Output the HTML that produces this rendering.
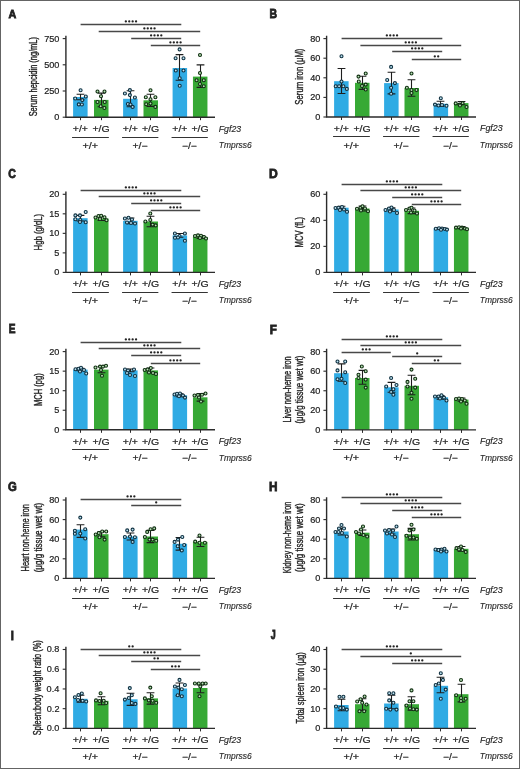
<!DOCTYPE html>
<html><head><meta charset="utf-8"><style>
html,body{margin:0;padding:0;background:#fff;}
body{width:520px;height:769px;overflow:hidden;}
text{font-family:"Liberation Sans",sans-serif;}
svg{will-change:transform;}
</style></head><body>
<svg width="520" height="769" viewBox="0 0 520 769" style="display:block">
<rect x="0" y="0" width="520" height="769" fill="#fff"/>
<text transform="translate(8.43,17.9) scale(0.91,1)" font-size="11.78" font-weight="bold" fill="#222" stroke="#222" stroke-width="0.8">A</text>
<line x1="80.6" y1="24.5" x2="181.3" y2="24.5" stroke="#484848" stroke-width="1.3"/>
<circle cx="125.85" cy="21.4" r="1.15" fill="#222"/>
<circle cx="129.25" cy="21.4" r="1.15" fill="#222"/>
<circle cx="132.65" cy="21.4" r="1.15" fill="#222"/>
<circle cx="136.05" cy="21.4" r="1.15" fill="#222"/>
<line x1="98.7" y1="31.5" x2="200.2" y2="31.5" stroke="#484848" stroke-width="1.3"/>
<circle cx="144.35" cy="28.4" r="1.15" fill="#222"/>
<circle cx="147.75" cy="28.4" r="1.15" fill="#222"/>
<circle cx="151.15" cy="28.4" r="1.15" fill="#222"/>
<circle cx="154.55" cy="28.4" r="1.15" fill="#222"/>
<line x1="131.2" y1="38.5" x2="181.2" y2="38.5" stroke="#484848" stroke-width="1.3"/>
<circle cx="151.1" cy="35.4" r="1.15" fill="#222"/>
<circle cx="154.5" cy="35.4" r="1.15" fill="#222"/>
<circle cx="157.9" cy="35.4" r="1.15" fill="#222"/>
<circle cx="161.3" cy="35.4" r="1.15" fill="#222"/>
<line x1="150.8" y1="45.5" x2="200.2" y2="45.5" stroke="#484848" stroke-width="1.3"/>
<circle cx="170.4" cy="42.4" r="1.15" fill="#222"/>
<circle cx="173.8" cy="42.4" r="1.15" fill="#222"/>
<circle cx="177.2" cy="42.4" r="1.15" fill="#222"/>
<circle cx="180.6" cy="42.4" r="1.15" fill="#222"/>
<rect x="73.1" y="97" width="14.5" height="20.2" fill="#30abe4"/>
<rect x="94" y="99.9" width="14.5" height="17.3" fill="#37a935"/>
<rect x="123.1" y="98.8" width="14.5" height="18.4" fill="#30abe4"/>
<rect x="143.5" y="100.3" width="14.5" height="16.9" fill="#37a935"/>
<rect x="172.6" y="68" width="14.5" height="49.2" fill="#30abe4"/>
<rect x="192.95" y="76.6" width="14.5" height="40.6" fill="#37a935"/>
<path d="M80.5,94.3V99.7M76.6,94.3H84.4M76.6,99.7H84.4" stroke="#1e1e1e" stroke-width="1.1" fill="none"/>
<path d="M101.5,93.1V106.7M97.6,93.1H105.4M97.6,106.7H105.4" stroke="#1e1e1e" stroke-width="1.1" fill="none"/>
<path d="M130.5,90.8V106.8M126.6,90.8H134.4M126.6,106.8H134.4" stroke="#1e1e1e" stroke-width="1.1" fill="none"/>
<path d="M150.5,94.2V106.4M146.6,94.2H154.4M146.6,106.4H154.4" stroke="#1e1e1e" stroke-width="1.1" fill="none"/>
<path d="M179.5,54.6V80.3M175.6,54.6H183.4M175.6,80.3H183.4" stroke="#1e1e1e" stroke-width="1.1" fill="none"/>
<path d="M200.5,64.9V87.4M196.6,64.9H204.4M196.6,87.4H204.4" stroke="#1e1e1e" stroke-width="1.1" fill="none"/>
<circle cx="80.6" cy="90.3" r="1.5" fill="#bde3f2" stroke="#0f3040" stroke-width="1.1"/>
<circle cx="75.2" cy="98.5" r="1.5" fill="#bde3f2" stroke="#0f3040" stroke-width="1.1"/>
<circle cx="85.8" cy="96.5" r="1.5" fill="#bde3f2" stroke="#0f3040" stroke-width="1.1"/>
<circle cx="82.3" cy="100.1" r="1.5" fill="#bde3f2" stroke="#0f3040" stroke-width="1.1"/>
<circle cx="78.8" cy="104.4" r="1.5" fill="#bde3f2" stroke="#0f3040" stroke-width="1.1"/>
<circle cx="81.9" cy="104.5" r="1.5" fill="#bde3f2" stroke="#0f3040" stroke-width="1.1"/>
<circle cx="97.5" cy="91.5" r="1.5" fill="#b8e2b6" stroke="#0f2e10" stroke-width="1.1"/>
<circle cx="104.5" cy="91.5" r="1.5" fill="#b8e2b6" stroke="#0f2e10" stroke-width="1.1"/>
<circle cx="101" cy="96.3" r="1.5" fill="#b8e2b6" stroke="#0f2e10" stroke-width="1.1"/>
<circle cx="97.5" cy="102" r="1.5" fill="#b8e2b6" stroke="#0f2e10" stroke-width="1.1"/>
<circle cx="104.7" cy="102" r="1.5" fill="#b8e2b6" stroke="#0f2e10" stroke-width="1.1"/>
<circle cx="100.7" cy="106.2" r="1.5" fill="#b8e2b6" stroke="#0f2e10" stroke-width="1.1"/>
<circle cx="104.4" cy="108" r="1.5" fill="#b8e2b6" stroke="#0f2e10" stroke-width="1.1"/>
<circle cx="129.9" cy="90.1" r="1.5" fill="#bde3f2" stroke="#0f3040" stroke-width="1.1"/>
<circle cx="124.9" cy="93.5" r="1.5" fill="#bde3f2" stroke="#0f3040" stroke-width="1.1"/>
<circle cx="129.9" cy="95.1" r="1.5" fill="#bde3f2" stroke="#0f3040" stroke-width="1.1"/>
<circle cx="134.9" cy="97.5" r="1.5" fill="#bde3f2" stroke="#0f3040" stroke-width="1.1"/>
<circle cx="127.9" cy="104" r="1.5" fill="#bde3f2" stroke="#0f3040" stroke-width="1.1"/>
<circle cx="130.5" cy="104.5" r="1.5" fill="#bde3f2" stroke="#0f3040" stroke-width="1.1"/>
<circle cx="132.6" cy="106.9" r="1.5" fill="#bde3f2" stroke="#0f3040" stroke-width="1.1"/>
<circle cx="150.5" cy="90.2" r="1.5" fill="#b8e2b6" stroke="#0f2e10" stroke-width="1.1"/>
<circle cx="145.8" cy="97.2" r="1.5" fill="#b8e2b6" stroke="#0f2e10" stroke-width="1.1"/>
<circle cx="155.4" cy="97.2" r="1.5" fill="#b8e2b6" stroke="#0f2e10" stroke-width="1.1"/>
<circle cx="150.5" cy="99.2" r="1.5" fill="#b8e2b6" stroke="#0f2e10" stroke-width="1.1"/>
<circle cx="146.2" cy="104.3" r="1.5" fill="#b8e2b6" stroke="#0f2e10" stroke-width="1.1"/>
<circle cx="155.4" cy="106.9" r="1.5" fill="#b8e2b6" stroke="#0f2e10" stroke-width="1.1"/>
<circle cx="150.5" cy="103.5" r="1.5" fill="#b8e2b6" stroke="#0f2e10" stroke-width="1.1"/>
<circle cx="179.6" cy="49.4" r="1.5" fill="#bde3f2" stroke="#0f3040" stroke-width="1.1"/>
<circle cx="175.6" cy="58.2" r="1.5" fill="#bde3f2" stroke="#0f3040" stroke-width="1.1"/>
<circle cx="183.5" cy="58.2" r="1.5" fill="#bde3f2" stroke="#0f3040" stroke-width="1.1"/>
<circle cx="175.8" cy="70.5" r="1.5" fill="#bde3f2" stroke="#0f3040" stroke-width="1.1"/>
<circle cx="183.5" cy="70.5" r="1.5" fill="#bde3f2" stroke="#0f3040" stroke-width="1.1"/>
<circle cx="179.7" cy="78.2" r="1.5" fill="#bde3f2" stroke="#0f3040" stroke-width="1.1"/>
<circle cx="179.7" cy="85.8" r="1.5" fill="#bde3f2" stroke="#0f3040" stroke-width="1.1"/>
<circle cx="200" cy="55" r="1.5" fill="#b8e2b6" stroke="#0f2e10" stroke-width="1.1"/>
<circle cx="200" cy="73" r="1.5" fill="#b8e2b6" stroke="#0f2e10" stroke-width="1.1"/>
<circle cx="196.6" cy="80.3" r="1.5" fill="#b8e2b6" stroke="#0f2e10" stroke-width="1.1"/>
<circle cx="203.8" cy="80.3" r="1.5" fill="#b8e2b6" stroke="#0f2e10" stroke-width="1.1"/>
<circle cx="203.8" cy="86.2" r="1.5" fill="#b8e2b6" stroke="#0f2e10" stroke-width="1.1"/>
<circle cx="200" cy="84" r="1.5" fill="#b8e2b6" stroke="#0f2e10" stroke-width="1.1"/>
<path d="M65.9,35.8V117.2H215" stroke="#2b2b2b" stroke-width="1.4" fill="none"/>
<line x1="62.7" y1="117.2" x2="65.9" y2="117.2" stroke="#2b2b2b" stroke-width="1.1"/>
<text transform="translate(54.28,120.18) scale(1.04,1)" font-size="8.8" fill="#222" stroke="#222" stroke-width="0.2">0</text>
<line x1="62.7" y1="91" x2="65.9" y2="91" stroke="#2b2b2b" stroke-width="1.1"/>
<text transform="translate(44.14,93.98) scale(1.04,1)" font-size="8.8" fill="#222" stroke="#222" stroke-width="0.2">250</text>
<line x1="62.7" y1="64.8" x2="65.9" y2="64.8" stroke="#2b2b2b" stroke-width="1.1"/>
<text transform="translate(44.14,67.78) scale(1.04,1)" font-size="8.8" fill="#222" stroke="#222" stroke-width="0.2">500</text>
<line x1="62.7" y1="38.6" x2="65.9" y2="38.6" stroke="#2b2b2b" stroke-width="1.1"/>
<text transform="translate(44.14,41.58) scale(1.04,1)" font-size="8.8" fill="#222" stroke="#222" stroke-width="0.2">750</text>
<line x1="80.5" y1="117.2" x2="80.5" y2="120.2" stroke="#2b2b2b" stroke-width="1"/>
<line x1="101.5" y1="117.2" x2="101.5" y2="120.2" stroke="#2b2b2b" stroke-width="1"/>
<line x1="130.5" y1="117.2" x2="130.5" y2="120.2" stroke="#2b2b2b" stroke-width="1"/>
<line x1="150.5" y1="117.2" x2="150.5" y2="120.2" stroke="#2b2b2b" stroke-width="1"/>
<line x1="179.5" y1="117.2" x2="179.5" y2="120.2" stroke="#2b2b2b" stroke-width="1"/>
<line x1="200.5" y1="117.2" x2="200.5" y2="120.2" stroke="#2b2b2b" stroke-width="1"/>
<text transform="translate(72.83,132) scale(1.17,1)" font-size="8.9" fill="#222" stroke="#222" stroke-width="0.2">+/+</text>
<text transform="translate(92.48,132) scale(1.18,1)" font-size="8.9" fill="#222" stroke="#222" stroke-width="0.2">+/G</text>
<text transform="translate(122.83,132) scale(1.17,1)" font-size="8.9" fill="#222" stroke="#222" stroke-width="0.2">+/+</text>
<text transform="translate(141.98,132) scale(1.18,1)" font-size="8.9" fill="#222" stroke="#222" stroke-width="0.2">+/G</text>
<text transform="translate(172.33,132) scale(1.17,1)" font-size="8.9" fill="#222" stroke="#222" stroke-width="0.2">+/+</text>
<text transform="translate(191.43,132) scale(1.18,1)" font-size="8.9" fill="#222" stroke="#222" stroke-width="0.2">+/G</text>
<line x1="72.05" y1="137.5" x2="108.85" y2="137.5" stroke="#333" stroke-width="1.2"/>
<text transform="translate(82.41,148.7) scale(1.21,1)" font-size="8.9" fill="#222" stroke="#222" stroke-width="0.2">+/+</text>
<line x1="122.05" y1="137.5" x2="158.35" y2="137.5" stroke="#333" stroke-width="1.2"/>
<text transform="translate(132.43,148.7) scale(1.17,1)" font-size="8.9" fill="#222" stroke="#222" stroke-width="0.2">+/−</text>
<line x1="171.55" y1="137.5" x2="207.8" y2="137.5" stroke="#333" stroke-width="1.2"/>
<text transform="translate(182.01,148.7) scale(1.15,1)" font-size="8.9" fill="#222" stroke="#222" stroke-width="0.2">−/−</text>
<text transform="translate(218.74,131.6) scale(1.01,1)" font-size="8.7" font-style="italic" fill="#222" stroke="#222" stroke-width="0.12">Fgf23</text>
<text transform="translate(218.74,148.1) scale(0.92,1)" font-size="9.2" font-style="italic" fill="#222" stroke="#222" stroke-width="0.12">Tmprss6</text>
<text transform="translate(36.85,116.34) rotate(-90) scale(0.73,1)" font-size="10.2" fill="#222" stroke="#222" stroke-width="0.35">Serum hepcidin (ng/mL)</text>
<text transform="translate(269.49,18.1) scale(0.85,1)" font-size="12.36" font-weight="bold" fill="#222" stroke="#222" stroke-width="0.8">B</text>
<line x1="341.6" y1="38.5" x2="442.3" y2="38.5" stroke="#484848" stroke-width="1.3"/>
<circle cx="386.85" cy="35.4" r="1.15" fill="#222"/>
<circle cx="390.25" cy="35.4" r="1.15" fill="#222"/>
<circle cx="393.65" cy="35.4" r="1.15" fill="#222"/>
<circle cx="397.05" cy="35.4" r="1.15" fill="#222"/>
<line x1="360.4" y1="45.5" x2="461.2" y2="45.5" stroke="#484848" stroke-width="1.3"/>
<circle cx="405.7" cy="42.4" r="1.15" fill="#222"/>
<circle cx="409.1" cy="42.4" r="1.15" fill="#222"/>
<circle cx="412.5" cy="42.4" r="1.15" fill="#222"/>
<circle cx="415.9" cy="42.4" r="1.15" fill="#222"/>
<line x1="392.2" y1="51.5" x2="442.2" y2="51.5" stroke="#484848" stroke-width="1.3"/>
<circle cx="412.1" cy="48.4" r="1.15" fill="#222"/>
<circle cx="415.5" cy="48.4" r="1.15" fill="#222"/>
<circle cx="418.9" cy="48.4" r="1.15" fill="#222"/>
<circle cx="422.3" cy="48.4" r="1.15" fill="#222"/>
<line x1="411.8" y1="59.5" x2="461.2" y2="59.5" stroke="#484848" stroke-width="1.3"/>
<circle cx="434.8" cy="56.4" r="1.15" fill="#222"/>
<circle cx="438.2" cy="56.4" r="1.15" fill="#222"/>
<rect x="334.1" y="81.2" width="14.5" height="35.8" fill="#30abe4"/>
<rect x="355" y="82.8" width="14.5" height="34.2" fill="#37a935"/>
<rect x="384.1" y="83.1" width="14.5" height="33.9" fill="#30abe4"/>
<rect x="404.5" y="88" width="14.5" height="29" fill="#37a935"/>
<rect x="433.6" y="103.8" width="14.5" height="13.2" fill="#30abe4"/>
<rect x="453.95" y="103.1" width="14.5" height="13.9" fill="#37a935"/>
<path d="M341.5,68.5V93.5M337.6,68.5H345.4M337.6,93.5H345.4" stroke="#1e1e1e" stroke-width="1.1" fill="none"/>
<path d="M362.5,76.2V89.4M358.6,76.2H366.4M358.6,89.4H366.4" stroke="#1e1e1e" stroke-width="1.1" fill="none"/>
<path d="M391.5,72.3V93.9M387.6,72.3H395.4M387.6,93.9H395.4" stroke="#1e1e1e" stroke-width="1.1" fill="none"/>
<path d="M411.5,79.7V96.3M407.6,79.7H415.4M407.6,96.3H415.4" stroke="#1e1e1e" stroke-width="1.1" fill="none"/>
<path d="M440.5,101.2V106.4M436.6,101.2H444.4M436.6,106.4H444.4" stroke="#1e1e1e" stroke-width="1.1" fill="none"/>
<path d="M461.5,101.5V104.7M457.6,101.5H465.4M457.6,104.7H465.4" stroke="#1e1e1e" stroke-width="1.1" fill="none"/>
<circle cx="341.5" cy="56.2" r="1.5" fill="#bde3f2" stroke="#0f3040" stroke-width="1.1"/>
<circle cx="335.7" cy="86.2" r="1.5" fill="#bde3f2" stroke="#0f3040" stroke-width="1.1"/>
<circle cx="339.1" cy="86.2" r="1.5" fill="#bde3f2" stroke="#0f3040" stroke-width="1.1"/>
<circle cx="343.4" cy="86.2" r="1.5" fill="#bde3f2" stroke="#0f3040" stroke-width="1.1"/>
<circle cx="346.8" cy="88.9" r="1.5" fill="#bde3f2" stroke="#0f3040" stroke-width="1.1"/>
<circle cx="341.5" cy="81.5" r="1.5" fill="#bde3f2" stroke="#0f3040" stroke-width="1.1"/>
<circle cx="358.5" cy="76.6" r="1.5" fill="#b8e2b6" stroke="#0f2e10" stroke-width="1.1"/>
<circle cx="365.7" cy="73.5" r="1.5" fill="#b8e2b6" stroke="#0f2e10" stroke-width="1.1"/>
<circle cx="358.8" cy="81.5" r="1.5" fill="#b8e2b6" stroke="#0f2e10" stroke-width="1.1"/>
<circle cx="365.7" cy="84.6" r="1.5" fill="#b8e2b6" stroke="#0f2e10" stroke-width="1.1"/>
<circle cx="365.7" cy="89.5" r="1.5" fill="#b8e2b6" stroke="#0f2e10" stroke-width="1.1"/>
<circle cx="362" cy="86" r="1.5" fill="#b8e2b6" stroke="#0f2e10" stroke-width="1.1"/>
<circle cx="391.1" cy="66.9" r="1.5" fill="#bde3f2" stroke="#0f3040" stroke-width="1.1"/>
<circle cx="387.2" cy="80" r="1.5" fill="#bde3f2" stroke="#0f3040" stroke-width="1.1"/>
<circle cx="394.9" cy="83.1" r="1.5" fill="#bde3f2" stroke="#0f3040" stroke-width="1.1"/>
<circle cx="391.1" cy="87.7" r="1.5" fill="#bde3f2" stroke="#0f3040" stroke-width="1.1"/>
<circle cx="391.1" cy="93.8" r="1.5" fill="#bde3f2" stroke="#0f3040" stroke-width="1.1"/>
<circle cx="411.5" cy="73.5" r="1.5" fill="#b8e2b6" stroke="#0f2e10" stroke-width="1.1"/>
<circle cx="406.9" cy="87.7" r="1.5" fill="#b8e2b6" stroke="#0f2e10" stroke-width="1.1"/>
<circle cx="416.5" cy="90" r="1.5" fill="#b8e2b6" stroke="#0f2e10" stroke-width="1.1"/>
<circle cx="411.5" cy="90" r="1.5" fill="#b8e2b6" stroke="#0f2e10" stroke-width="1.1"/>
<circle cx="411.5" cy="93" r="1.5" fill="#b8e2b6" stroke="#0f2e10" stroke-width="1.1"/>
<circle cx="440.8" cy="98.2" r="1.5" fill="#bde3f2" stroke="#0f3040" stroke-width="1.1"/>
<circle cx="435" cy="104.6" r="1.5" fill="#bde3f2" stroke="#0f3040" stroke-width="1.1"/>
<circle cx="438.5" cy="105.5" r="1.5" fill="#bde3f2" stroke="#0f3040" stroke-width="1.1"/>
<circle cx="442" cy="105" r="1.5" fill="#bde3f2" stroke="#0f3040" stroke-width="1.1"/>
<circle cx="446.5" cy="105.8" r="1.5" fill="#bde3f2" stroke="#0f3040" stroke-width="1.1"/>
<circle cx="455.7" cy="103.4" r="1.5" fill="#b8e2b6" stroke="#0f2e10" stroke-width="1.1"/>
<circle cx="459.5" cy="104.6" r="1.5" fill="#b8e2b6" stroke="#0f2e10" stroke-width="1.1"/>
<circle cx="462.6" cy="103.1" r="1.5" fill="#b8e2b6" stroke="#0f2e10" stroke-width="1.1"/>
<circle cx="466.5" cy="107" r="1.5" fill="#b8e2b6" stroke="#0f2e10" stroke-width="1.1"/>
<circle cx="460" cy="105.5" r="1.5" fill="#b8e2b6" stroke="#0f2e10" stroke-width="1.1"/>
<path d="M326.6,35.8V117H476" stroke="#2b2b2b" stroke-width="1.4" fill="none"/>
<line x1="323.4" y1="117" x2="326.6" y2="117" stroke="#2b2b2b" stroke-width="1.1"/>
<text transform="translate(315.28,119.98) scale(1.04,1)" font-size="8.8" fill="#222" stroke="#222" stroke-width="0.2">0</text>
<line x1="323.4" y1="97.4" x2="326.6" y2="97.4" stroke="#2b2b2b" stroke-width="1.1"/>
<text transform="translate(310.22,100.38) scale(1.04,1)" font-size="8.8" fill="#222" stroke="#222" stroke-width="0.2">20</text>
<line x1="323.4" y1="77.8" x2="326.6" y2="77.8" stroke="#2b2b2b" stroke-width="1.1"/>
<text transform="translate(310.22,80.78) scale(1.04,1)" font-size="8.8" fill="#222" stroke="#222" stroke-width="0.2">40</text>
<line x1="323.4" y1="58.2" x2="326.6" y2="58.2" stroke="#2b2b2b" stroke-width="1.1"/>
<text transform="translate(310.22,61.18) scale(1.04,1)" font-size="8.8" fill="#222" stroke="#222" stroke-width="0.2">60</text>
<line x1="323.4" y1="38.6" x2="326.6" y2="38.6" stroke="#2b2b2b" stroke-width="1.1"/>
<text transform="translate(310.22,41.58) scale(1.04,1)" font-size="8.8" fill="#222" stroke="#222" stroke-width="0.2">80</text>
<line x1="341.5" y1="117" x2="341.5" y2="120" stroke="#2b2b2b" stroke-width="1"/>
<line x1="362.5" y1="117" x2="362.5" y2="120" stroke="#2b2b2b" stroke-width="1"/>
<line x1="391.5" y1="117" x2="391.5" y2="120" stroke="#2b2b2b" stroke-width="1"/>
<line x1="411.5" y1="117" x2="411.5" y2="120" stroke="#2b2b2b" stroke-width="1"/>
<line x1="440.5" y1="117" x2="440.5" y2="120" stroke="#2b2b2b" stroke-width="1"/>
<line x1="461.5" y1="117" x2="461.5" y2="120" stroke="#2b2b2b" stroke-width="1"/>
<text transform="translate(333.83,131.8) scale(1.17,1)" font-size="8.9" fill="#222" stroke="#222" stroke-width="0.2">+/+</text>
<text transform="translate(353.48,131.8) scale(1.18,1)" font-size="8.9" fill="#222" stroke="#222" stroke-width="0.2">+/G</text>
<text transform="translate(383.83,131.8) scale(1.17,1)" font-size="8.9" fill="#222" stroke="#222" stroke-width="0.2">+/+</text>
<text transform="translate(402.98,131.8) scale(1.18,1)" font-size="8.9" fill="#222" stroke="#222" stroke-width="0.2">+/G</text>
<text transform="translate(433.33,131.8) scale(1.17,1)" font-size="8.9" fill="#222" stroke="#222" stroke-width="0.2">+/+</text>
<text transform="translate(452.43,131.8) scale(1.18,1)" font-size="8.9" fill="#222" stroke="#222" stroke-width="0.2">+/G</text>
<line x1="333.05" y1="136.5" x2="369.85" y2="136.5" stroke="#333" stroke-width="1.2"/>
<text transform="translate(343.41,148.5) scale(1.21,1)" font-size="8.9" fill="#222" stroke="#222" stroke-width="0.2">+/+</text>
<line x1="383.05" y1="136.5" x2="419.35" y2="136.5" stroke="#333" stroke-width="1.2"/>
<text transform="translate(393.43,148.5) scale(1.17,1)" font-size="8.9" fill="#222" stroke="#222" stroke-width="0.2">+/−</text>
<line x1="432.55" y1="136.5" x2="468.8" y2="136.5" stroke="#333" stroke-width="1.2"/>
<text transform="translate(443.01,148.5) scale(1.15,1)" font-size="8.9" fill="#222" stroke="#222" stroke-width="0.2">−/−</text>
<text transform="translate(480.03,131.4) scale(1.02,1)" font-size="8.7" font-style="italic" fill="#222" stroke="#222" stroke-width="0.12">Fgf23</text>
<text transform="translate(479.74,147.9) scale(0.92,1)" font-size="9.2" font-style="italic" fill="#222" stroke="#222" stroke-width="0.12">Tmprss6</text>
<text transform="translate(303.3,104.65) rotate(-90) scale(0.76,1)" font-size="10.2" fill="#222" stroke="#222" stroke-width="0.35">Serum iron (μM)</text>
<text transform="translate(8.28,178.2) scale(0.81,1)" font-size="12.95" font-weight="bold" fill="#222" stroke="#222" stroke-width="0.8">C</text>
<line x1="80.6" y1="190.5" x2="181.3" y2="190.5" stroke="#484848" stroke-width="1.3"/>
<circle cx="125.85" cy="187.4" r="1.15" fill="#222"/>
<circle cx="129.25" cy="187.4" r="1.15" fill="#222"/>
<circle cx="132.65" cy="187.4" r="1.15" fill="#222"/>
<circle cx="136.05" cy="187.4" r="1.15" fill="#222"/>
<line x1="98.7" y1="196.5" x2="200.2" y2="196.5" stroke="#484848" stroke-width="1.3"/>
<circle cx="144.35" cy="193.4" r="1.15" fill="#222"/>
<circle cx="147.75" cy="193.4" r="1.15" fill="#222"/>
<circle cx="151.15" cy="193.4" r="1.15" fill="#222"/>
<circle cx="154.55" cy="193.4" r="1.15" fill="#222"/>
<line x1="131.2" y1="203.5" x2="181.2" y2="203.5" stroke="#484848" stroke-width="1.3"/>
<circle cx="151.1" cy="200.4" r="1.15" fill="#222"/>
<circle cx="154.5" cy="200.4" r="1.15" fill="#222"/>
<circle cx="157.9" cy="200.4" r="1.15" fill="#222"/>
<circle cx="161.3" cy="200.4" r="1.15" fill="#222"/>
<line x1="150.8" y1="210.5" x2="200.2" y2="210.5" stroke="#484848" stroke-width="1.3"/>
<circle cx="170.4" cy="207.4" r="1.15" fill="#222"/>
<circle cx="173.8" cy="207.4" r="1.15" fill="#222"/>
<circle cx="177.2" cy="207.4" r="1.15" fill="#222"/>
<circle cx="180.6" cy="207.4" r="1.15" fill="#222"/>
<rect x="73.1" y="218.2" width="14.5" height="54.2" fill="#30abe4"/>
<rect x="94" y="218.5" width="14.5" height="53.9" fill="#37a935"/>
<rect x="123.1" y="220.8" width="14.5" height="51.6" fill="#30abe4"/>
<rect x="143.5" y="221.5" width="14.5" height="50.9" fill="#37a935"/>
<rect x="172.6" y="235.4" width="14.5" height="37" fill="#30abe4"/>
<rect x="192.95" y="237" width="14.5" height="35.4" fill="#37a935"/>
<path d="M80.5,215.4V221M76.6,215.4H84.4M76.6,221H84.4" stroke="#1e1e1e" stroke-width="1.1" fill="none"/>
<path d="M101.5,216.5V220.5M97.6,216.5H105.4M97.6,220.5H105.4" stroke="#1e1e1e" stroke-width="1.1" fill="none"/>
<path d="M130.5,218V223.6M126.6,218H134.4M126.6,223.6H134.4" stroke="#1e1e1e" stroke-width="1.1" fill="none"/>
<path d="M150.5,216.2V226.8M146.6,216.2H154.4M146.6,226.8H154.4" stroke="#1e1e1e" stroke-width="1.1" fill="none"/>
<path d="M179.5,233.5V237.3M175.6,233.5H183.4M175.6,237.3H183.4" stroke="#1e1e1e" stroke-width="1.1" fill="none"/>
<path d="M200.5,235.6V238.4M196.6,235.6H204.4M196.6,238.4H204.4" stroke="#1e1e1e" stroke-width="1.1" fill="none"/>
<circle cx="75.4" cy="215.4" r="1.5" fill="#bde3f2" stroke="#0f3040" stroke-width="1.1"/>
<circle cx="80" cy="215.4" r="1.5" fill="#bde3f2" stroke="#0f3040" stroke-width="1.1"/>
<circle cx="85.7" cy="212" r="1.5" fill="#bde3f2" stroke="#0f3040" stroke-width="1.1"/>
<circle cx="75.4" cy="219.2" r="1.5" fill="#bde3f2" stroke="#0f3040" stroke-width="1.1"/>
<circle cx="80.3" cy="220" r="1.5" fill="#bde3f2" stroke="#0f3040" stroke-width="1.1"/>
<circle cx="85.7" cy="222.3" r="1.5" fill="#bde3f2" stroke="#0f3040" stroke-width="1.1"/>
<circle cx="80" cy="222" r="1.5" fill="#bde3f2" stroke="#0f3040" stroke-width="1.1"/>
<circle cx="95.5" cy="217.5" r="1.5" fill="#b8e2b6" stroke="#0f2e10" stroke-width="1.1"/>
<circle cx="98.5" cy="216" r="1.5" fill="#b8e2b6" stroke="#0f2e10" stroke-width="1.1"/>
<circle cx="101.2" cy="215.8" r="1.5" fill="#b8e2b6" stroke="#0f2e10" stroke-width="1.1"/>
<circle cx="104.5" cy="217.2" r="1.5" fill="#b8e2b6" stroke="#0f2e10" stroke-width="1.1"/>
<circle cx="106.5" cy="220.2" r="1.5" fill="#b8e2b6" stroke="#0f2e10" stroke-width="1.1"/>
<circle cx="100" cy="219" r="1.5" fill="#b8e2b6" stroke="#0f2e10" stroke-width="1.1"/>
<circle cx="124.9" cy="218.5" r="1.5" fill="#bde3f2" stroke="#0f3040" stroke-width="1.1"/>
<circle cx="128.5" cy="217.7" r="1.5" fill="#bde3f2" stroke="#0f3040" stroke-width="1.1"/>
<circle cx="132" cy="219.5" r="1.5" fill="#bde3f2" stroke="#0f3040" stroke-width="1.1"/>
<circle cx="127" cy="222.5" r="1.5" fill="#bde3f2" stroke="#0f3040" stroke-width="1.1"/>
<circle cx="131" cy="223" r="1.5" fill="#bde3f2" stroke="#0f3040" stroke-width="1.1"/>
<circle cx="135" cy="223.5" r="1.5" fill="#bde3f2" stroke="#0f3040" stroke-width="1.1"/>
<circle cx="150.3" cy="213.5" r="1.5" fill="#b8e2b6" stroke="#0f2e10" stroke-width="1.1"/>
<circle cx="145.4" cy="221.5" r="1.5" fill="#b8e2b6" stroke="#0f2e10" stroke-width="1.1"/>
<circle cx="150.3" cy="220" r="1.5" fill="#b8e2b6" stroke="#0f2e10" stroke-width="1.1"/>
<circle cx="155.7" cy="225.4" r="1.5" fill="#b8e2b6" stroke="#0f2e10" stroke-width="1.1"/>
<circle cx="152.6" cy="224.6" r="1.5" fill="#b8e2b6" stroke="#0f2e10" stroke-width="1.1"/>
<circle cx="174.9" cy="233.5" r="1.5" fill="#bde3f2" stroke="#0f3040" stroke-width="1.1"/>
<circle cx="184.9" cy="233.5" r="1.5" fill="#bde3f2" stroke="#0f3040" stroke-width="1.1"/>
<circle cx="175" cy="237.7" r="1.5" fill="#bde3f2" stroke="#0f3040" stroke-width="1.1"/>
<circle cx="184.9" cy="240.8" r="1.5" fill="#bde3f2" stroke="#0f3040" stroke-width="1.1"/>
<circle cx="179.5" cy="236" r="1.5" fill="#bde3f2" stroke="#0f3040" stroke-width="1.1"/>
<circle cx="178" cy="237.5" r="1.5" fill="#bde3f2" stroke="#0f3040" stroke-width="1.1"/>
<circle cx="195" cy="236" r="1.5" fill="#b8e2b6" stroke="#0f2e10" stroke-width="1.1"/>
<circle cx="198" cy="235.4" r="1.5" fill="#b8e2b6" stroke="#0f2e10" stroke-width="1.1"/>
<circle cx="201" cy="235.8" r="1.5" fill="#b8e2b6" stroke="#0f2e10" stroke-width="1.1"/>
<circle cx="204" cy="237" r="1.5" fill="#b8e2b6" stroke="#0f2e10" stroke-width="1.1"/>
<circle cx="206" cy="238.5" r="1.5" fill="#b8e2b6" stroke="#0f2e10" stroke-width="1.1"/>
<circle cx="200" cy="238" r="1.5" fill="#b8e2b6" stroke="#0f2e10" stroke-width="1.1"/>
<path d="M65.9,191.5V272.4H215" stroke="#2b2b2b" stroke-width="1.4" fill="none"/>
<line x1="62.7" y1="272.4" x2="65.9" y2="272.4" stroke="#2b2b2b" stroke-width="1.1"/>
<text transform="translate(54.28,275.38) scale(1.04,1)" font-size="8.8" fill="#222" stroke="#222" stroke-width="0.2">0</text>
<line x1="62.7" y1="252.88" x2="65.9" y2="252.88" stroke="#2b2b2b" stroke-width="1.1"/>
<text transform="translate(54.3,255.86) scale(1.04,1)" font-size="8.8" fill="#222" stroke="#222" stroke-width="0.2">5</text>
<line x1="62.7" y1="233.35" x2="65.9" y2="233.35" stroke="#2b2b2b" stroke-width="1.1"/>
<text transform="translate(49.22,236.33) scale(1.04,1)" font-size="8.8" fill="#222" stroke="#222" stroke-width="0.2">10</text>
<line x1="62.7" y1="213.82" x2="65.9" y2="213.82" stroke="#2b2b2b" stroke-width="1.1"/>
<text transform="translate(49.25,216.81) scale(1.04,1)" font-size="8.8" fill="#222" stroke="#222" stroke-width="0.2">15</text>
<line x1="62.7" y1="194.3" x2="65.9" y2="194.3" stroke="#2b2b2b" stroke-width="1.1"/>
<text transform="translate(49.22,197.28) scale(1.04,1)" font-size="8.8" fill="#222" stroke="#222" stroke-width="0.2">20</text>
<line x1="80.5" y1="272.4" x2="80.5" y2="275.4" stroke="#2b2b2b" stroke-width="1"/>
<line x1="101.5" y1="272.4" x2="101.5" y2="275.4" stroke="#2b2b2b" stroke-width="1"/>
<line x1="130.5" y1="272.4" x2="130.5" y2="275.4" stroke="#2b2b2b" stroke-width="1"/>
<line x1="150.5" y1="272.4" x2="150.5" y2="275.4" stroke="#2b2b2b" stroke-width="1"/>
<line x1="179.5" y1="272.4" x2="179.5" y2="275.4" stroke="#2b2b2b" stroke-width="1"/>
<line x1="200.5" y1="272.4" x2="200.5" y2="275.4" stroke="#2b2b2b" stroke-width="1"/>
<text transform="translate(72.83,287.2) scale(1.17,1)" font-size="8.9" fill="#222" stroke="#222" stroke-width="0.2">+/+</text>
<text transform="translate(92.48,287.2) scale(1.18,1)" font-size="8.9" fill="#222" stroke="#222" stroke-width="0.2">+/G</text>
<text transform="translate(122.83,287.2) scale(1.17,1)" font-size="8.9" fill="#222" stroke="#222" stroke-width="0.2">+/+</text>
<text transform="translate(141.98,287.2) scale(1.18,1)" font-size="8.9" fill="#222" stroke="#222" stroke-width="0.2">+/G</text>
<text transform="translate(172.33,287.2) scale(1.17,1)" font-size="8.9" fill="#222" stroke="#222" stroke-width="0.2">+/+</text>
<text transform="translate(191.43,287.2) scale(1.18,1)" font-size="8.9" fill="#222" stroke="#222" stroke-width="0.2">+/G</text>
<line x1="72.05" y1="292.5" x2="108.85" y2="292.5" stroke="#333" stroke-width="1.2"/>
<text transform="translate(82.41,303.9) scale(1.21,1)" font-size="8.9" fill="#222" stroke="#222" stroke-width="0.2">+/+</text>
<line x1="122.05" y1="292.5" x2="158.35" y2="292.5" stroke="#333" stroke-width="1.2"/>
<text transform="translate(132.43,303.9) scale(1.17,1)" font-size="8.9" fill="#222" stroke="#222" stroke-width="0.2">+/−</text>
<line x1="171.55" y1="292.5" x2="207.8" y2="292.5" stroke="#333" stroke-width="1.2"/>
<text transform="translate(182.01,303.9) scale(1.15,1)" font-size="8.9" fill="#222" stroke="#222" stroke-width="0.2">−/−</text>
<text transform="translate(218.74,286.8) scale(1.01,1)" font-size="8.7" font-style="italic" fill="#222" stroke="#222" stroke-width="0.12">Fgf23</text>
<text transform="translate(218.74,303.3) scale(0.92,1)" font-size="9.2" font-style="italic" fill="#222" stroke="#222" stroke-width="0.12">Tmprss6</text>
<text transform="translate(41.9,250.44) rotate(-90) scale(0.76,1)" font-size="10.2" fill="#222" stroke="#222" stroke-width="0.35">Hgb (g/dL)</text>
<text transform="translate(269.08,177.9) scale(0.98,1)" font-size="12.36" font-weight="bold" fill="#222" stroke="#222" stroke-width="0.8">D</text>
<line x1="341.6" y1="184.5" x2="442.3" y2="184.5" stroke="#484848" stroke-width="1.3"/>
<circle cx="386.85" cy="181.4" r="1.15" fill="#222"/>
<circle cx="390.25" cy="181.4" r="1.15" fill="#222"/>
<circle cx="393.65" cy="181.4" r="1.15" fill="#222"/>
<circle cx="397.05" cy="181.4" r="1.15" fill="#222"/>
<line x1="360.4" y1="190.5" x2="461.2" y2="190.5" stroke="#484848" stroke-width="1.3"/>
<circle cx="405.7" cy="187.4" r="1.15" fill="#222"/>
<circle cx="409.1" cy="187.4" r="1.15" fill="#222"/>
<circle cx="412.5" cy="187.4" r="1.15" fill="#222"/>
<circle cx="415.9" cy="187.4" r="1.15" fill="#222"/>
<line x1="392.2" y1="197.5" x2="442.2" y2="197.5" stroke="#484848" stroke-width="1.3"/>
<circle cx="412.1" cy="194.4" r="1.15" fill="#222"/>
<circle cx="415.5" cy="194.4" r="1.15" fill="#222"/>
<circle cx="418.9" cy="194.4" r="1.15" fill="#222"/>
<circle cx="422.3" cy="194.4" r="1.15" fill="#222"/>
<line x1="411.8" y1="204.5" x2="461.2" y2="204.5" stroke="#484848" stroke-width="1.3"/>
<circle cx="431.4" cy="201.4" r="1.15" fill="#222"/>
<circle cx="434.8" cy="201.4" r="1.15" fill="#222"/>
<circle cx="438.2" cy="201.4" r="1.15" fill="#222"/>
<circle cx="441.6" cy="201.4" r="1.15" fill="#222"/>
<rect x="334.1" y="207.7" width="14.5" height="64.7" fill="#30abe4"/>
<rect x="355" y="208.5" width="14.5" height="63.9" fill="#37a935"/>
<rect x="384.1" y="209.5" width="14.5" height="62.9" fill="#30abe4"/>
<rect x="404.5" y="210.8" width="14.5" height="61.6" fill="#37a935"/>
<rect x="433.6" y="228.5" width="14.5" height="43.9" fill="#30abe4"/>
<rect x="453.95" y="227.7" width="14.5" height="44.7" fill="#37a935"/>
<path d="M341.5,206.3V209.1M337.6,206.3H345.4M337.6,209.1H345.4" stroke="#1e1e1e" stroke-width="1.1" fill="none"/>
<path d="M362.5,206V211M358.6,206H366.4M358.6,211H366.4" stroke="#1e1e1e" stroke-width="1.1" fill="none"/>
<path d="M391.5,207.7V211.3M387.6,207.7H395.4M387.6,211.3H395.4" stroke="#1e1e1e" stroke-width="1.1" fill="none"/>
<path d="M411.5,208V213.6M407.6,208H415.4M407.6,213.6H415.4" stroke="#1e1e1e" stroke-width="1.1" fill="none"/>
<path d="M440.5,227.6V229.4M436.6,227.6H444.4M436.6,229.4H444.4" stroke="#1e1e1e" stroke-width="1.1" fill="none"/>
<path d="M461.5,226.6V228.8M457.6,226.6H465.4M457.6,228.8H465.4" stroke="#1e1e1e" stroke-width="1.1" fill="none"/>
<circle cx="335.5" cy="208" r="1.5" fill="#bde3f2" stroke="#0f3040" stroke-width="1.1"/>
<circle cx="338.5" cy="207.8" r="1.5" fill="#bde3f2" stroke="#0f3040" stroke-width="1.1"/>
<circle cx="342" cy="207" r="1.5" fill="#bde3f2" stroke="#0f3040" stroke-width="1.1"/>
<circle cx="344" cy="209.5" r="1.5" fill="#bde3f2" stroke="#0f3040" stroke-width="1.1"/>
<circle cx="347" cy="211.8" r="1.5" fill="#bde3f2" stroke="#0f3040" stroke-width="1.1"/>
<circle cx="340" cy="210" r="1.5" fill="#bde3f2" stroke="#0f3040" stroke-width="1.1"/>
<circle cx="357" cy="208.8" r="1.5" fill="#b8e2b6" stroke="#0f2e10" stroke-width="1.1"/>
<circle cx="360.5" cy="207.8" r="1.5" fill="#b8e2b6" stroke="#0f2e10" stroke-width="1.1"/>
<circle cx="362.5" cy="206.2" r="1.5" fill="#b8e2b6" stroke="#0f2e10" stroke-width="1.1"/>
<circle cx="365" cy="208.5" r="1.5" fill="#b8e2b6" stroke="#0f2e10" stroke-width="1.1"/>
<circle cx="368" cy="211.2" r="1.5" fill="#b8e2b6" stroke="#0f2e10" stroke-width="1.1"/>
<circle cx="361" cy="210.5" r="1.5" fill="#b8e2b6" stroke="#0f2e10" stroke-width="1.1"/>
<circle cx="385.5" cy="210" r="1.5" fill="#bde3f2" stroke="#0f3040" stroke-width="1.1"/>
<circle cx="389" cy="208.5" r="1.5" fill="#bde3f2" stroke="#0f3040" stroke-width="1.1"/>
<circle cx="391.5" cy="207.5" r="1.5" fill="#bde3f2" stroke="#0f3040" stroke-width="1.1"/>
<circle cx="394" cy="210" r="1.5" fill="#bde3f2" stroke="#0f3040" stroke-width="1.1"/>
<circle cx="397" cy="213" r="1.5" fill="#bde3f2" stroke="#0f3040" stroke-width="1.1"/>
<circle cx="390" cy="211.5" r="1.5" fill="#bde3f2" stroke="#0f3040" stroke-width="1.1"/>
<circle cx="406" cy="210" r="1.5" fill="#b8e2b6" stroke="#0f2e10" stroke-width="1.1"/>
<circle cx="409.5" cy="208.5" r="1.5" fill="#b8e2b6" stroke="#0f2e10" stroke-width="1.1"/>
<circle cx="411.5" cy="207.7" r="1.5" fill="#b8e2b6" stroke="#0f2e10" stroke-width="1.1"/>
<circle cx="414.5" cy="210.5" r="1.5" fill="#b8e2b6" stroke="#0f2e10" stroke-width="1.1"/>
<circle cx="417" cy="213.5" r="1.5" fill="#b8e2b6" stroke="#0f2e10" stroke-width="1.1"/>
<circle cx="411" cy="212.5" r="1.5" fill="#b8e2b6" stroke="#0f2e10" stroke-width="1.1"/>
<circle cx="435.8" cy="228.8" r="1.5" fill="#bde3f2" stroke="#0f3040" stroke-width="1.1"/>
<circle cx="439" cy="228.2" r="1.5" fill="#bde3f2" stroke="#0f3040" stroke-width="1.1"/>
<circle cx="442" cy="228.5" r="1.5" fill="#bde3f2" stroke="#0f3040" stroke-width="1.1"/>
<circle cx="445" cy="229" r="1.5" fill="#bde3f2" stroke="#0f3040" stroke-width="1.1"/>
<circle cx="447" cy="229.6" r="1.5" fill="#bde3f2" stroke="#0f3040" stroke-width="1.1"/>
<circle cx="441" cy="229.8" r="1.5" fill="#bde3f2" stroke="#0f3040" stroke-width="1.1"/>
<circle cx="456" cy="227.6" r="1.5" fill="#b8e2b6" stroke="#0f2e10" stroke-width="1.1"/>
<circle cx="459" cy="227.2" r="1.5" fill="#b8e2b6" stroke="#0f2e10" stroke-width="1.1"/>
<circle cx="462" cy="227.6" r="1.5" fill="#b8e2b6" stroke="#0f2e10" stroke-width="1.1"/>
<circle cx="465" cy="228.5" r="1.5" fill="#b8e2b6" stroke="#0f2e10" stroke-width="1.1"/>
<circle cx="467" cy="229.2" r="1.5" fill="#b8e2b6" stroke="#0f2e10" stroke-width="1.1"/>
<circle cx="461" cy="228.5" r="1.5" fill="#b8e2b6" stroke="#0f2e10" stroke-width="1.1"/>
<path d="M326.6,191.5V272.4H476" stroke="#2b2b2b" stroke-width="1.4" fill="none"/>
<line x1="323.4" y1="272.4" x2="326.6" y2="272.4" stroke="#2b2b2b" stroke-width="1.1"/>
<text transform="translate(315.28,275.38) scale(1.04,1)" font-size="8.8" fill="#222" stroke="#222" stroke-width="0.2">0</text>
<line x1="323.4" y1="246.37" x2="326.6" y2="246.37" stroke="#2b2b2b" stroke-width="1.1"/>
<text transform="translate(310.22,249.35) scale(1.04,1)" font-size="8.8" fill="#222" stroke="#222" stroke-width="0.2">20</text>
<line x1="323.4" y1="220.33" x2="326.6" y2="220.33" stroke="#2b2b2b" stroke-width="1.1"/>
<text transform="translate(310.22,223.31) scale(1.04,1)" font-size="8.8" fill="#222" stroke="#222" stroke-width="0.2">40</text>
<line x1="323.4" y1="194.3" x2="326.6" y2="194.3" stroke="#2b2b2b" stroke-width="1.1"/>
<text transform="translate(310.22,197.28) scale(1.04,1)" font-size="8.8" fill="#222" stroke="#222" stroke-width="0.2">60</text>
<line x1="341.5" y1="272.4" x2="341.5" y2="275.4" stroke="#2b2b2b" stroke-width="1"/>
<line x1="362.5" y1="272.4" x2="362.5" y2="275.4" stroke="#2b2b2b" stroke-width="1"/>
<line x1="391.5" y1="272.4" x2="391.5" y2="275.4" stroke="#2b2b2b" stroke-width="1"/>
<line x1="411.5" y1="272.4" x2="411.5" y2="275.4" stroke="#2b2b2b" stroke-width="1"/>
<line x1="440.5" y1="272.4" x2="440.5" y2="275.4" stroke="#2b2b2b" stroke-width="1"/>
<line x1="461.5" y1="272.4" x2="461.5" y2="275.4" stroke="#2b2b2b" stroke-width="1"/>
<text transform="translate(333.83,287.2) scale(1.17,1)" font-size="8.9" fill="#222" stroke="#222" stroke-width="0.2">+/+</text>
<text transform="translate(353.48,287.2) scale(1.18,1)" font-size="8.9" fill="#222" stroke="#222" stroke-width="0.2">+/G</text>
<text transform="translate(383.83,287.2) scale(1.17,1)" font-size="8.9" fill="#222" stroke="#222" stroke-width="0.2">+/+</text>
<text transform="translate(402.98,287.2) scale(1.18,1)" font-size="8.9" fill="#222" stroke="#222" stroke-width="0.2">+/G</text>
<text transform="translate(433.33,287.2) scale(1.17,1)" font-size="8.9" fill="#222" stroke="#222" stroke-width="0.2">+/+</text>
<text transform="translate(452.43,287.2) scale(1.18,1)" font-size="8.9" fill="#222" stroke="#222" stroke-width="0.2">+/G</text>
<line x1="333.05" y1="292.5" x2="369.85" y2="292.5" stroke="#333" stroke-width="1.2"/>
<text transform="translate(343.41,303.9) scale(1.21,1)" font-size="8.9" fill="#222" stroke="#222" stroke-width="0.2">+/+</text>
<line x1="383.05" y1="292.5" x2="419.35" y2="292.5" stroke="#333" stroke-width="1.2"/>
<text transform="translate(393.43,303.9) scale(1.17,1)" font-size="8.9" fill="#222" stroke="#222" stroke-width="0.2">+/−</text>
<line x1="432.55" y1="292.5" x2="468.8" y2="292.5" stroke="#333" stroke-width="1.2"/>
<text transform="translate(443.01,303.9) scale(1.15,1)" font-size="8.9" fill="#222" stroke="#222" stroke-width="0.2">−/−</text>
<text transform="translate(480.03,286.8) scale(1.02,1)" font-size="8.7" font-style="italic" fill="#222" stroke="#222" stroke-width="0.12">Fgf23</text>
<text transform="translate(479.74,303.3) scale(0.92,1)" font-size="9.2" font-style="italic" fill="#222" stroke="#222" stroke-width="0.12">Tmprss6</text>
<text transform="translate(303.4,247.43) rotate(-90) scale(0.75,1)" font-size="10.2" fill="#222" stroke="#222" stroke-width="0.35">MCV (fL)</text>
<text transform="translate(8.81,333.4) scale(0.84,1)" font-size="12.07" font-weight="bold" fill="#222" stroke="#222" stroke-width="0.8">E</text>
<line x1="80.6" y1="342.5" x2="181.3" y2="342.5" stroke="#484848" stroke-width="1.3"/>
<circle cx="125.85" cy="339.4" r="1.15" fill="#222"/>
<circle cx="129.25" cy="339.4" r="1.15" fill="#222"/>
<circle cx="132.65" cy="339.4" r="1.15" fill="#222"/>
<circle cx="136.05" cy="339.4" r="1.15" fill="#222"/>
<line x1="98.7" y1="348.5" x2="200.2" y2="348.5" stroke="#484848" stroke-width="1.3"/>
<circle cx="144.35" cy="345.4" r="1.15" fill="#222"/>
<circle cx="147.75" cy="345.4" r="1.15" fill="#222"/>
<circle cx="151.15" cy="345.4" r="1.15" fill="#222"/>
<circle cx="154.55" cy="345.4" r="1.15" fill="#222"/>
<line x1="131.2" y1="355.5" x2="181.2" y2="355.5" stroke="#484848" stroke-width="1.3"/>
<circle cx="151.1" cy="352.4" r="1.15" fill="#222"/>
<circle cx="154.5" cy="352.4" r="1.15" fill="#222"/>
<circle cx="157.9" cy="352.4" r="1.15" fill="#222"/>
<circle cx="161.3" cy="352.4" r="1.15" fill="#222"/>
<line x1="150.8" y1="363.5" x2="200.2" y2="363.5" stroke="#484848" stroke-width="1.3"/>
<circle cx="170.4" cy="360.4" r="1.15" fill="#222"/>
<circle cx="173.8" cy="360.4" r="1.15" fill="#222"/>
<circle cx="177.2" cy="360.4" r="1.15" fill="#222"/>
<circle cx="180.6" cy="360.4" r="1.15" fill="#222"/>
<rect x="73.1" y="369.6" width="14.5" height="60.2" fill="#30abe4"/>
<rect x="94" y="369.6" width="14.5" height="60.2" fill="#37a935"/>
<rect x="123.1" y="370.4" width="14.5" height="59.4" fill="#30abe4"/>
<rect x="143.5" y="370.4" width="14.5" height="59.4" fill="#37a935"/>
<rect x="172.6" y="395.3" width="14.5" height="34.5" fill="#30abe4"/>
<rect x="192.95" y="397.3" width="14.5" height="32.5" fill="#37a935"/>
<path d="M80.5,368.4V370.8M76.6,368.4H84.4M76.6,370.8H84.4" stroke="#1e1e1e" stroke-width="1.1" fill="none"/>
<path d="M101.5,366.5V372.7M97.6,366.5H105.4M97.6,372.7H105.4" stroke="#1e1e1e" stroke-width="1.1" fill="none"/>
<path d="M130.5,369V371.8M126.6,369H134.4M126.6,371.8H134.4" stroke="#1e1e1e" stroke-width="1.1" fill="none"/>
<path d="M150.5,368V372.8M146.6,368H154.4M146.6,372.8H154.4" stroke="#1e1e1e" stroke-width="1.1" fill="none"/>
<path d="M179.5,393.9V396.7M175.6,393.9H183.4M175.6,396.7H183.4" stroke="#1e1e1e" stroke-width="1.1" fill="none"/>
<path d="M200.5,393.5V401.1M196.6,393.5H204.4M196.6,401.1H204.4" stroke="#1e1e1e" stroke-width="1.1" fill="none"/>
<circle cx="75.5" cy="369.3" r="1.5" fill="#bde3f2" stroke="#0f3040" stroke-width="1.1"/>
<circle cx="78.5" cy="368.8" r="1.5" fill="#bde3f2" stroke="#0f3040" stroke-width="1.1"/>
<circle cx="81" cy="367.8" r="1.5" fill="#bde3f2" stroke="#0f3040" stroke-width="1.1"/>
<circle cx="84" cy="370" r="1.5" fill="#bde3f2" stroke="#0f3040" stroke-width="1.1"/>
<circle cx="86.2" cy="373.5" r="1.5" fill="#bde3f2" stroke="#0f3040" stroke-width="1.1"/>
<circle cx="80" cy="371.5" r="1.5" fill="#bde3f2" stroke="#0f3040" stroke-width="1.1"/>
<circle cx="95.5" cy="367.5" r="1.5" fill="#b8e2b6" stroke="#0f2e10" stroke-width="1.1"/>
<circle cx="100" cy="366.6" r="1.5" fill="#b8e2b6" stroke="#0f2e10" stroke-width="1.1"/>
<circle cx="103" cy="366.6" r="1.5" fill="#b8e2b6" stroke="#0f2e10" stroke-width="1.1"/>
<circle cx="106" cy="365.8" r="1.5" fill="#b8e2b6" stroke="#0f2e10" stroke-width="1.1"/>
<circle cx="101" cy="370" r="1.5" fill="#b8e2b6" stroke="#0f2e10" stroke-width="1.1"/>
<circle cx="102" cy="375.8" r="1.5" fill="#b8e2b6" stroke="#0f2e10" stroke-width="1.1"/>
<circle cx="125" cy="369.5" r="1.5" fill="#bde3f2" stroke="#0f3040" stroke-width="1.1"/>
<circle cx="128" cy="370.5" r="1.5" fill="#bde3f2" stroke="#0f3040" stroke-width="1.1"/>
<circle cx="134" cy="369.5" r="1.5" fill="#bde3f2" stroke="#0f3040" stroke-width="1.1"/>
<circle cx="127" cy="373" r="1.5" fill="#bde3f2" stroke="#0f3040" stroke-width="1.1"/>
<circle cx="130" cy="375" r="1.5" fill="#bde3f2" stroke="#0f3040" stroke-width="1.1"/>
<circle cx="135" cy="376" r="1.5" fill="#bde3f2" stroke="#0f3040" stroke-width="1.1"/>
<circle cx="144.7" cy="370" r="1.5" fill="#b8e2b6" stroke="#0f2e10" stroke-width="1.1"/>
<circle cx="147.5" cy="369.5" r="1.5" fill="#b8e2b6" stroke="#0f2e10" stroke-width="1.1"/>
<circle cx="150.8" cy="368" r="1.5" fill="#b8e2b6" stroke="#0f2e10" stroke-width="1.1"/>
<circle cx="149" cy="372.5" r="1.5" fill="#b8e2b6" stroke="#0f2e10" stroke-width="1.1"/>
<circle cx="153" cy="373" r="1.5" fill="#b8e2b6" stroke="#0f2e10" stroke-width="1.1"/>
<circle cx="156" cy="374" r="1.5" fill="#b8e2b6" stroke="#0f2e10" stroke-width="1.1"/>
<circle cx="174.5" cy="394.5" r="1.5" fill="#bde3f2" stroke="#0f3040" stroke-width="1.1"/>
<circle cx="177" cy="393.8" r="1.5" fill="#bde3f2" stroke="#0f3040" stroke-width="1.1"/>
<circle cx="180" cy="393.5" r="1.5" fill="#bde3f2" stroke="#0f3040" stroke-width="1.1"/>
<circle cx="183" cy="395.5" r="1.5" fill="#bde3f2" stroke="#0f3040" stroke-width="1.1"/>
<circle cx="185" cy="397.6" r="1.5" fill="#bde3f2" stroke="#0f3040" stroke-width="1.1"/>
<circle cx="179" cy="396.3" r="1.5" fill="#bde3f2" stroke="#0f3040" stroke-width="1.1"/>
<circle cx="194.5" cy="395.5" r="1.5" fill="#b8e2b6" stroke="#0f2e10" stroke-width="1.1"/>
<circle cx="198" cy="395" r="1.5" fill="#b8e2b6" stroke="#0f2e10" stroke-width="1.1"/>
<circle cx="202" cy="394.7" r="1.5" fill="#b8e2b6" stroke="#0f2e10" stroke-width="1.1"/>
<circle cx="205.5" cy="393.5" r="1.5" fill="#b8e2b6" stroke="#0f2e10" stroke-width="1.1"/>
<circle cx="199" cy="397.5" r="1.5" fill="#b8e2b6" stroke="#0f2e10" stroke-width="1.1"/>
<circle cx="201" cy="401.5" r="1.5" fill="#b8e2b6" stroke="#0f2e10" stroke-width="1.1"/>
<path d="M65.9,348.8V429.8H215" stroke="#2b2b2b" stroke-width="1.4" fill="none"/>
<line x1="62.7" y1="429.8" x2="65.9" y2="429.8" stroke="#2b2b2b" stroke-width="1.1"/>
<text transform="translate(54.28,432.78) scale(1.04,1)" font-size="8.8" fill="#222" stroke="#222" stroke-width="0.2">0</text>
<line x1="62.7" y1="410.25" x2="65.9" y2="410.25" stroke="#2b2b2b" stroke-width="1.1"/>
<text transform="translate(54.3,413.23) scale(1.04,1)" font-size="8.8" fill="#222" stroke="#222" stroke-width="0.2">5</text>
<line x1="62.7" y1="390.7" x2="65.9" y2="390.7" stroke="#2b2b2b" stroke-width="1.1"/>
<text transform="translate(49.22,393.68) scale(1.04,1)" font-size="8.8" fill="#222" stroke="#222" stroke-width="0.2">10</text>
<line x1="62.7" y1="371.15" x2="65.9" y2="371.15" stroke="#2b2b2b" stroke-width="1.1"/>
<text transform="translate(49.25,374.13) scale(1.04,1)" font-size="8.8" fill="#222" stroke="#222" stroke-width="0.2">15</text>
<line x1="62.7" y1="351.6" x2="65.9" y2="351.6" stroke="#2b2b2b" stroke-width="1.1"/>
<text transform="translate(49.22,354.58) scale(1.04,1)" font-size="8.8" fill="#222" stroke="#222" stroke-width="0.2">20</text>
<line x1="80.5" y1="429.8" x2="80.5" y2="432.8" stroke="#2b2b2b" stroke-width="1"/>
<line x1="101.5" y1="429.8" x2="101.5" y2="432.8" stroke="#2b2b2b" stroke-width="1"/>
<line x1="130.5" y1="429.8" x2="130.5" y2="432.8" stroke="#2b2b2b" stroke-width="1"/>
<line x1="150.5" y1="429.8" x2="150.5" y2="432.8" stroke="#2b2b2b" stroke-width="1"/>
<line x1="179.5" y1="429.8" x2="179.5" y2="432.8" stroke="#2b2b2b" stroke-width="1"/>
<line x1="200.5" y1="429.8" x2="200.5" y2="432.8" stroke="#2b2b2b" stroke-width="1"/>
<text transform="translate(72.83,444.6) scale(1.17,1)" font-size="8.9" fill="#222" stroke="#222" stroke-width="0.2">+/+</text>
<text transform="translate(92.48,444.6) scale(1.18,1)" font-size="8.9" fill="#222" stroke="#222" stroke-width="0.2">+/G</text>
<text transform="translate(122.83,444.6) scale(1.17,1)" font-size="8.9" fill="#222" stroke="#222" stroke-width="0.2">+/+</text>
<text transform="translate(141.98,444.6) scale(1.18,1)" font-size="8.9" fill="#222" stroke="#222" stroke-width="0.2">+/G</text>
<text transform="translate(172.33,444.6) scale(1.17,1)" font-size="8.9" fill="#222" stroke="#222" stroke-width="0.2">+/+</text>
<text transform="translate(191.43,444.6) scale(1.18,1)" font-size="8.9" fill="#222" stroke="#222" stroke-width="0.2">+/G</text>
<line x1="72.05" y1="449.5" x2="108.85" y2="449.5" stroke="#333" stroke-width="1.2"/>
<text transform="translate(82.41,461.3) scale(1.21,1)" font-size="8.9" fill="#222" stroke="#222" stroke-width="0.2">+/+</text>
<line x1="122.05" y1="449.5" x2="158.35" y2="449.5" stroke="#333" stroke-width="1.2"/>
<text transform="translate(132.43,461.3) scale(1.17,1)" font-size="8.9" fill="#222" stroke="#222" stroke-width="0.2">+/−</text>
<line x1="171.55" y1="449.5" x2="207.8" y2="449.5" stroke="#333" stroke-width="1.2"/>
<text transform="translate(182.01,461.3) scale(1.15,1)" font-size="8.9" fill="#222" stroke="#222" stroke-width="0.2">−/−</text>
<text transform="translate(218.74,444.2) scale(1.01,1)" font-size="8.7" font-style="italic" fill="#222" stroke="#222" stroke-width="0.12">Fgf23</text>
<text transform="translate(218.74,460.7) scale(0.92,1)" font-size="9.2" font-style="italic" fill="#222" stroke="#222" stroke-width="0.12">Tmprss6</text>
<text transform="translate(42.3,405.93) rotate(-90) scale(0.74,1)" font-size="10.2" fill="#222" stroke="#222" stroke-width="0.35">MCH (pg)</text>
<text transform="translate(269.82,333.5) scale(0.93,1)" font-size="12.51" font-weight="bold" fill="#222" stroke="#222" stroke-width="0.8">F</text>
<line x1="341.6" y1="339.5" x2="442.3" y2="339.5" stroke="#484848" stroke-width="1.3"/>
<circle cx="386.85" cy="336.4" r="1.15" fill="#222"/>
<circle cx="390.25" cy="336.4" r="1.15" fill="#222"/>
<circle cx="393.65" cy="336.4" r="1.15" fill="#222"/>
<circle cx="397.05" cy="336.4" r="1.15" fill="#222"/>
<line x1="360.4" y1="345.5" x2="461.2" y2="345.5" stroke="#484848" stroke-width="1.3"/>
<circle cx="405.7" cy="342.4" r="1.15" fill="#222"/>
<circle cx="409.1" cy="342.4" r="1.15" fill="#222"/>
<circle cx="412.5" cy="342.4" r="1.15" fill="#222"/>
<circle cx="415.9" cy="342.4" r="1.15" fill="#222"/>
<line x1="341.6" y1="352.5" x2="390.8" y2="352.5" stroke="#484848" stroke-width="1.3"/>
<circle cx="362.8" cy="349.4" r="1.15" fill="#222"/>
<circle cx="366.2" cy="349.4" r="1.15" fill="#222"/>
<circle cx="369.6" cy="349.4" r="1.15" fill="#222"/>
<line x1="392.2" y1="356.5" x2="442.2" y2="356.5" stroke="#484848" stroke-width="1.3"/>
<circle cx="417.2" cy="353.4" r="1.15" fill="#222"/>
<line x1="411.8" y1="363.5" x2="461.2" y2="363.5" stroke="#484848" stroke-width="1.3"/>
<circle cx="434.8" cy="360.4" r="1.15" fill="#222"/>
<circle cx="438.2" cy="360.4" r="1.15" fill="#222"/>
<rect x="334.1" y="373.2" width="14.5" height="56.7" fill="#30abe4"/>
<rect x="355" y="378" width="14.5" height="51.9" fill="#37a935"/>
<rect x="384.1" y="387.3" width="14.5" height="42.6" fill="#30abe4"/>
<rect x="404.5" y="385.8" width="14.5" height="44.1" fill="#37a935"/>
<rect x="433.6" y="397.3" width="14.5" height="32.6" fill="#30abe4"/>
<rect x="453.95" y="399.6" width="14.5" height="30.3" fill="#37a935"/>
<path d="M341.5,363.9V381.2M337.6,363.9H345.4M337.6,381.2H345.4" stroke="#1e1e1e" stroke-width="1.1" fill="none"/>
<path d="M362.5,370.4V384.2M358.6,370.4H366.4M358.6,384.2H366.4" stroke="#1e1e1e" stroke-width="1.1" fill="none"/>
<path d="M391.5,382.4V392.2M387.6,382.4H395.4M387.6,392.2H395.4" stroke="#1e1e1e" stroke-width="1.1" fill="none"/>
<path d="M411.5,375.3V394.7M407.6,375.3H415.4M407.6,394.7H415.4" stroke="#1e1e1e" stroke-width="1.1" fill="none"/>
<path d="M440.5,395.5V399.1M436.6,395.5H444.4M436.6,399.1H444.4" stroke="#1e1e1e" stroke-width="1.1" fill="none"/>
<path d="M461.5,398V401.2M457.6,398H465.4M457.6,401.2H465.4" stroke="#1e1e1e" stroke-width="1.1" fill="none"/>
<circle cx="337.5" cy="361.5" r="1.5" fill="#bde3f2" stroke="#0f3040" stroke-width="1.1"/>
<circle cx="345.2" cy="361.5" r="1.5" fill="#bde3f2" stroke="#0f3040" stroke-width="1.1"/>
<circle cx="337.5" cy="370.4" r="1.5" fill="#bde3f2" stroke="#0f3040" stroke-width="1.1"/>
<circle cx="345.2" cy="372.2" r="1.5" fill="#bde3f2" stroke="#0f3040" stroke-width="1.1"/>
<circle cx="337.5" cy="379.3" r="1.5" fill="#bde3f2" stroke="#0f3040" stroke-width="1.1"/>
<circle cx="341.5" cy="378.8" r="1.5" fill="#bde3f2" stroke="#0f3040" stroke-width="1.1"/>
<circle cx="345.2" cy="383" r="1.5" fill="#bde3f2" stroke="#0f3040" stroke-width="1.1"/>
<circle cx="361.8" cy="366.5" r="1.5" fill="#b8e2b6" stroke="#0f2e10" stroke-width="1.1"/>
<circle cx="365.7" cy="371.2" r="1.5" fill="#b8e2b6" stroke="#0f2e10" stroke-width="1.1"/>
<circle cx="358.5" cy="374.7" r="1.5" fill="#b8e2b6" stroke="#0f2e10" stroke-width="1.1"/>
<circle cx="358.5" cy="378" r="1.5" fill="#b8e2b6" stroke="#0f2e10" stroke-width="1.1"/>
<circle cx="365.7" cy="379.6" r="1.5" fill="#b8e2b6" stroke="#0f2e10" stroke-width="1.1"/>
<circle cx="365.7" cy="387.6" r="1.5" fill="#b8e2b6" stroke="#0f2e10" stroke-width="1.1"/>
<circle cx="391.1" cy="378" r="1.5" fill="#bde3f2" stroke="#0f3040" stroke-width="1.1"/>
<circle cx="386.2" cy="386.5" r="1.5" fill="#bde3f2" stroke="#0f3040" stroke-width="1.1"/>
<circle cx="396.5" cy="385" r="1.5" fill="#bde3f2" stroke="#0f3040" stroke-width="1.1"/>
<circle cx="393.4" cy="389.2" r="1.5" fill="#bde3f2" stroke="#0f3040" stroke-width="1.1"/>
<circle cx="391.1" cy="391.9" r="1.5" fill="#bde3f2" stroke="#0f3040" stroke-width="1.1"/>
<circle cx="393.4" cy="394.7" r="1.5" fill="#bde3f2" stroke="#0f3040" stroke-width="1.1"/>
<circle cx="411.5" cy="369.6" r="1.5" fill="#b8e2b6" stroke="#0f2e10" stroke-width="1.1"/>
<circle cx="415.2" cy="378.8" r="1.5" fill="#b8e2b6" stroke="#0f2e10" stroke-width="1.1"/>
<circle cx="407.5" cy="381.9" r="1.5" fill="#b8e2b6" stroke="#0f2e10" stroke-width="1.1"/>
<circle cx="407.5" cy="386.5" r="1.5" fill="#b8e2b6" stroke="#0f2e10" stroke-width="1.1"/>
<circle cx="415.2" cy="387.6" r="1.5" fill="#b8e2b6" stroke="#0f2e10" stroke-width="1.1"/>
<circle cx="411.5" cy="398.8" r="1.5" fill="#b8e2b6" stroke="#0f2e10" stroke-width="1.1"/>
<circle cx="411.5" cy="392.7" r="1.5" fill="#b8e2b6" stroke="#0f2e10" stroke-width="1.1"/>
<circle cx="435" cy="396.5" r="1.5" fill="#bde3f2" stroke="#0f3040" stroke-width="1.1"/>
<circle cx="438.5" cy="396.5" r="1.5" fill="#bde3f2" stroke="#0f3040" stroke-width="1.1"/>
<circle cx="441.5" cy="395.3" r="1.5" fill="#bde3f2" stroke="#0f3040" stroke-width="1.1"/>
<circle cx="444" cy="397.6" r="1.5" fill="#bde3f2" stroke="#0f3040" stroke-width="1.1"/>
<circle cx="446.5" cy="400.5" r="1.5" fill="#bde3f2" stroke="#0f3040" stroke-width="1.1"/>
<circle cx="440" cy="398.5" r="1.5" fill="#bde3f2" stroke="#0f3040" stroke-width="1.1"/>
<circle cx="456" cy="399" r="1.5" fill="#b8e2b6" stroke="#0f2e10" stroke-width="1.1"/>
<circle cx="459" cy="398.5" r="1.5" fill="#b8e2b6" stroke="#0f2e10" stroke-width="1.1"/>
<circle cx="462" cy="399" r="1.5" fill="#b8e2b6" stroke="#0f2e10" stroke-width="1.1"/>
<circle cx="464.8" cy="400.5" r="1.5" fill="#b8e2b6" stroke="#0f2e10" stroke-width="1.1"/>
<circle cx="466.5" cy="403.8" r="1.5" fill="#b8e2b6" stroke="#0f2e10" stroke-width="1.1"/>
<circle cx="461" cy="401.5" r="1.5" fill="#b8e2b6" stroke="#0f2e10" stroke-width="1.1"/>
<path d="M326.6,348.8V429.9H476" stroke="#2b2b2b" stroke-width="1.4" fill="none"/>
<line x1="323.4" y1="429.9" x2="326.6" y2="429.9" stroke="#2b2b2b" stroke-width="1.1"/>
<text transform="translate(315.28,432.88) scale(1.04,1)" font-size="8.8" fill="#222" stroke="#222" stroke-width="0.2">0</text>
<line x1="323.4" y1="410.32" x2="326.6" y2="410.32" stroke="#2b2b2b" stroke-width="1.1"/>
<text transform="translate(310.22,413.3) scale(1.04,1)" font-size="8.8" fill="#222" stroke="#222" stroke-width="0.2">20</text>
<line x1="323.4" y1="390.75" x2="326.6" y2="390.75" stroke="#2b2b2b" stroke-width="1.1"/>
<text transform="translate(310.22,393.73) scale(1.04,1)" font-size="8.8" fill="#222" stroke="#222" stroke-width="0.2">40</text>
<line x1="323.4" y1="371.18" x2="326.6" y2="371.18" stroke="#2b2b2b" stroke-width="1.1"/>
<text transform="translate(310.22,374.15) scale(1.04,1)" font-size="8.8" fill="#222" stroke="#222" stroke-width="0.2">60</text>
<line x1="323.4" y1="351.6" x2="326.6" y2="351.6" stroke="#2b2b2b" stroke-width="1.1"/>
<text transform="translate(310.22,354.58) scale(1.04,1)" font-size="8.8" fill="#222" stroke="#222" stroke-width="0.2">80</text>
<line x1="341.5" y1="429.9" x2="341.5" y2="432.9" stroke="#2b2b2b" stroke-width="1"/>
<line x1="362.5" y1="429.9" x2="362.5" y2="432.9" stroke="#2b2b2b" stroke-width="1"/>
<line x1="391.5" y1="429.9" x2="391.5" y2="432.9" stroke="#2b2b2b" stroke-width="1"/>
<line x1="411.5" y1="429.9" x2="411.5" y2="432.9" stroke="#2b2b2b" stroke-width="1"/>
<line x1="440.5" y1="429.9" x2="440.5" y2="432.9" stroke="#2b2b2b" stroke-width="1"/>
<line x1="461.5" y1="429.9" x2="461.5" y2="432.9" stroke="#2b2b2b" stroke-width="1"/>
<text transform="translate(333.83,444.7) scale(1.17,1)" font-size="8.9" fill="#222" stroke="#222" stroke-width="0.2">+/+</text>
<text transform="translate(353.48,444.7) scale(1.18,1)" font-size="8.9" fill="#222" stroke="#222" stroke-width="0.2">+/G</text>
<text transform="translate(383.83,444.7) scale(1.17,1)" font-size="8.9" fill="#222" stroke="#222" stroke-width="0.2">+/+</text>
<text transform="translate(402.98,444.7) scale(1.18,1)" font-size="8.9" fill="#222" stroke="#222" stroke-width="0.2">+/G</text>
<text transform="translate(433.33,444.7) scale(1.17,1)" font-size="8.9" fill="#222" stroke="#222" stroke-width="0.2">+/+</text>
<text transform="translate(452.43,444.7) scale(1.18,1)" font-size="8.9" fill="#222" stroke="#222" stroke-width="0.2">+/G</text>
<line x1="333.05" y1="449.5" x2="369.85" y2="449.5" stroke="#333" stroke-width="1.2"/>
<text transform="translate(343.41,461.4) scale(1.21,1)" font-size="8.9" fill="#222" stroke="#222" stroke-width="0.2">+/+</text>
<line x1="383.05" y1="449.5" x2="419.35" y2="449.5" stroke="#333" stroke-width="1.2"/>
<text transform="translate(393.43,461.4) scale(1.17,1)" font-size="8.9" fill="#222" stroke="#222" stroke-width="0.2">+/−</text>
<line x1="432.55" y1="449.5" x2="468.8" y2="449.5" stroke="#333" stroke-width="1.2"/>
<text transform="translate(443.01,461.4) scale(1.15,1)" font-size="8.9" fill="#222" stroke="#222" stroke-width="0.2">−/−</text>
<text transform="translate(480.03,444.3) scale(1.02,1)" font-size="8.7" font-style="italic" fill="#222" stroke="#222" stroke-width="0.12">Fgf23</text>
<text transform="translate(479.74,460.8) scale(0.92,1)" font-size="9.2" font-style="italic" fill="#222" stroke="#222" stroke-width="0.12">Tmprss6</text>
<text transform="translate(290.5,422.41) rotate(-90) scale(0.73,1)" font-size="10.2" fill="#222" stroke="#222" stroke-width="0.35">Liver non-heme iron</text>
<text transform="translate(303,423.49) rotate(-90) scale(0.77,1)" font-size="10.2" fill="#222" stroke="#222" stroke-width="0.35">(μg/g tissue wet wt)</text>
<text transform="translate(8.05,491) scale(0.9,1)" font-size="12.51" font-weight="bold" fill="#222" stroke="#222" stroke-width="0.8">G</text>
<line x1="80.6" y1="499.5" x2="181.3" y2="499.5" stroke="#484848" stroke-width="1.3"/>
<circle cx="127.55" cy="496.4" r="1.15" fill="#222"/>
<circle cx="130.95" cy="496.4" r="1.15" fill="#222"/>
<circle cx="134.35" cy="496.4" r="1.15" fill="#222"/>
<line x1="131.2" y1="505.5" x2="181.2" y2="505.5" stroke="#484848" stroke-width="1.3"/>
<circle cx="156.2" cy="502.4" r="1.15" fill="#222"/>
<rect x="73.1" y="529.6" width="14.5" height="48.8" fill="#30abe4"/>
<rect x="94" y="534.2" width="14.5" height="44.2" fill="#37a935"/>
<rect x="123.1" y="536.5" width="14.5" height="41.9" fill="#30abe4"/>
<rect x="143.5" y="536.5" width="14.5" height="41.9" fill="#37a935"/>
<rect x="172.6" y="543.8" width="14.5" height="34.6" fill="#30abe4"/>
<rect x="192.95" y="541.9" width="14.5" height="36.5" fill="#37a935"/>
<path d="M80.5,524.7V537.4M76.6,524.7H84.4M76.6,537.4H84.4" stroke="#1e1e1e" stroke-width="1.1" fill="none"/>
<path d="M101.5,531.5V536.9M97.6,531.5H105.4M97.6,536.9H105.4" stroke="#1e1e1e" stroke-width="1.1" fill="none"/>
<path d="M130.5,533V540M126.6,533H134.4M126.6,540H134.4" stroke="#1e1e1e" stroke-width="1.1" fill="none"/>
<path d="M150.5,530.4V542.6M146.6,530.4H154.4M146.6,542.6H154.4" stroke="#1e1e1e" stroke-width="1.1" fill="none"/>
<path d="M179.5,537.5V550.1M175.6,537.5H183.4M175.6,550.1H183.4" stroke="#1e1e1e" stroke-width="1.1" fill="none"/>
<path d="M200.5,537.3V546.5M196.6,537.3H204.4M196.6,546.5H204.4" stroke="#1e1e1e" stroke-width="1.1" fill="none"/>
<circle cx="80.3" cy="517.6" r="1.5" fill="#bde3f2" stroke="#0f3040" stroke-width="1.1"/>
<circle cx="74.9" cy="530.8" r="1.5" fill="#bde3f2" stroke="#0f3040" stroke-width="1.1"/>
<circle cx="74.9" cy="533.8" r="1.5" fill="#bde3f2" stroke="#0f3040" stroke-width="1.1"/>
<circle cx="85.2" cy="529.3" r="1.5" fill="#bde3f2" stroke="#0f3040" stroke-width="1.1"/>
<circle cx="85.2" cy="538.5" r="1.5" fill="#bde3f2" stroke="#0f3040" stroke-width="1.1"/>
<circle cx="80.3" cy="533.5" r="1.5" fill="#bde3f2" stroke="#0f3040" stroke-width="1.1"/>
<circle cx="95.7" cy="534.5" r="1.5" fill="#b8e2b6" stroke="#0f2e10" stroke-width="1.1"/>
<circle cx="98.8" cy="533" r="1.5" fill="#b8e2b6" stroke="#0f2e10" stroke-width="1.1"/>
<circle cx="102.2" cy="531.5" r="1.5" fill="#b8e2b6" stroke="#0f2e10" stroke-width="1.1"/>
<circle cx="106.2" cy="531.5" r="1.5" fill="#b8e2b6" stroke="#0f2e10" stroke-width="1.1"/>
<circle cx="99.5" cy="537.3" r="1.5" fill="#b8e2b6" stroke="#0f2e10" stroke-width="1.1"/>
<circle cx="104.6" cy="539.6" r="1.5" fill="#b8e2b6" stroke="#0f2e10" stroke-width="1.1"/>
<circle cx="127.2" cy="530.4" r="1.5" fill="#bde3f2" stroke="#0f3040" stroke-width="1.1"/>
<circle cx="132.6" cy="529.6" r="1.5" fill="#bde3f2" stroke="#0f3040" stroke-width="1.1"/>
<circle cx="124.9" cy="537" r="1.5" fill="#bde3f2" stroke="#0f3040" stroke-width="1.1"/>
<circle cx="130" cy="536.5" r="1.5" fill="#bde3f2" stroke="#0f3040" stroke-width="1.1"/>
<circle cx="134.9" cy="537.3" r="1.5" fill="#bde3f2" stroke="#0f3040" stroke-width="1.1"/>
<circle cx="132.6" cy="541.9" r="1.5" fill="#bde3f2" stroke="#0f3040" stroke-width="1.1"/>
<circle cx="147.2" cy="531.9" r="1.5" fill="#b8e2b6" stroke="#0f2e10" stroke-width="1.1"/>
<circle cx="150.6" cy="529.3" r="1.5" fill="#b8e2b6" stroke="#0f2e10" stroke-width="1.1"/>
<circle cx="154.2" cy="528.4" r="1.5" fill="#b8e2b6" stroke="#0f2e10" stroke-width="1.1"/>
<circle cx="144.9" cy="537" r="1.5" fill="#b8e2b6" stroke="#0f2e10" stroke-width="1.1"/>
<circle cx="149.5" cy="539.6" r="1.5" fill="#b8e2b6" stroke="#0f2e10" stroke-width="1.1"/>
<circle cx="152.6" cy="539.6" r="1.5" fill="#b8e2b6" stroke="#0f2e10" stroke-width="1.1"/>
<circle cx="156.2" cy="540.7" r="1.5" fill="#b8e2b6" stroke="#0f2e10" stroke-width="1.1"/>
<circle cx="182.3" cy="537" r="1.5" fill="#bde3f2" stroke="#0f3040" stroke-width="1.1"/>
<circle cx="178" cy="539.6" r="1.5" fill="#bde3f2" stroke="#0f3040" stroke-width="1.1"/>
<circle cx="174.6" cy="541.9" r="1.5" fill="#bde3f2" stroke="#0f3040" stroke-width="1.1"/>
<circle cx="184.2" cy="545" r="1.5" fill="#bde3f2" stroke="#0f3040" stroke-width="1.1"/>
<circle cx="177.7" cy="546.2" r="1.5" fill="#bde3f2" stroke="#0f3040" stroke-width="1.1"/>
<circle cx="181.8" cy="550.4" r="1.5" fill="#bde3f2" stroke="#0f3040" stroke-width="1.1"/>
<circle cx="199.5" cy="535.5" r="1.5" fill="#b8e2b6" stroke="#0f2e10" stroke-width="1.1"/>
<circle cx="195.2" cy="541.6" r="1.5" fill="#b8e2b6" stroke="#0f2e10" stroke-width="1.1"/>
<circle cx="199.5" cy="542.7" r="1.5" fill="#b8e2b6" stroke="#0f2e10" stroke-width="1.1"/>
<circle cx="204.9" cy="542.7" r="1.5" fill="#b8e2b6" stroke="#0f2e10" stroke-width="1.1"/>
<path d="M65.9,497.2V578.4H215" stroke="#2b2b2b" stroke-width="1.4" fill="none"/>
<line x1="62.7" y1="578.4" x2="65.9" y2="578.4" stroke="#2b2b2b" stroke-width="1.1"/>
<text transform="translate(54.28,581.38) scale(1.04,1)" font-size="8.8" fill="#222" stroke="#222" stroke-width="0.2">0</text>
<line x1="62.7" y1="558.8" x2="65.9" y2="558.8" stroke="#2b2b2b" stroke-width="1.1"/>
<text transform="translate(49.22,561.78) scale(1.04,1)" font-size="8.8" fill="#222" stroke="#222" stroke-width="0.2">20</text>
<line x1="62.7" y1="539.2" x2="65.9" y2="539.2" stroke="#2b2b2b" stroke-width="1.1"/>
<text transform="translate(49.22,542.18) scale(1.04,1)" font-size="8.8" fill="#222" stroke="#222" stroke-width="0.2">40</text>
<line x1="62.7" y1="519.6" x2="65.9" y2="519.6" stroke="#2b2b2b" stroke-width="1.1"/>
<text transform="translate(49.22,522.58) scale(1.04,1)" font-size="8.8" fill="#222" stroke="#222" stroke-width="0.2">60</text>
<line x1="62.7" y1="500" x2="65.9" y2="500" stroke="#2b2b2b" stroke-width="1.1"/>
<text transform="translate(49.22,502.98) scale(1.04,1)" font-size="8.8" fill="#222" stroke="#222" stroke-width="0.2">80</text>
<line x1="80.5" y1="578.4" x2="80.5" y2="581.4" stroke="#2b2b2b" stroke-width="1"/>
<line x1="101.5" y1="578.4" x2="101.5" y2="581.4" stroke="#2b2b2b" stroke-width="1"/>
<line x1="130.5" y1="578.4" x2="130.5" y2="581.4" stroke="#2b2b2b" stroke-width="1"/>
<line x1="150.5" y1="578.4" x2="150.5" y2="581.4" stroke="#2b2b2b" stroke-width="1"/>
<line x1="179.5" y1="578.4" x2="179.5" y2="581.4" stroke="#2b2b2b" stroke-width="1"/>
<line x1="200.5" y1="578.4" x2="200.5" y2="581.4" stroke="#2b2b2b" stroke-width="1"/>
<text transform="translate(72.83,593.2) scale(1.17,1)" font-size="8.9" fill="#222" stroke="#222" stroke-width="0.2">+/+</text>
<text transform="translate(92.48,593.2) scale(1.18,1)" font-size="8.9" fill="#222" stroke="#222" stroke-width="0.2">+/G</text>
<text transform="translate(122.83,593.2) scale(1.17,1)" font-size="8.9" fill="#222" stroke="#222" stroke-width="0.2">+/+</text>
<text transform="translate(141.98,593.2) scale(1.18,1)" font-size="8.9" fill="#222" stroke="#222" stroke-width="0.2">+/G</text>
<text transform="translate(172.33,593.2) scale(1.17,1)" font-size="8.9" fill="#222" stroke="#222" stroke-width="0.2">+/+</text>
<text transform="translate(191.43,593.2) scale(1.18,1)" font-size="8.9" fill="#222" stroke="#222" stroke-width="0.2">+/G</text>
<line x1="72.05" y1="598.5" x2="108.85" y2="598.5" stroke="#333" stroke-width="1.2"/>
<text transform="translate(82.41,609.9) scale(1.21,1)" font-size="8.9" fill="#222" stroke="#222" stroke-width="0.2">+/+</text>
<line x1="122.05" y1="598.5" x2="158.35" y2="598.5" stroke="#333" stroke-width="1.2"/>
<text transform="translate(132.43,609.9) scale(1.17,1)" font-size="8.9" fill="#222" stroke="#222" stroke-width="0.2">+/−</text>
<line x1="171.55" y1="598.5" x2="207.8" y2="598.5" stroke="#333" stroke-width="1.2"/>
<text transform="translate(182.01,609.9) scale(1.15,1)" font-size="8.9" fill="#222" stroke="#222" stroke-width="0.2">−/−</text>
<text transform="translate(218.74,592.8) scale(1.01,1)" font-size="8.7" font-style="italic" fill="#222" stroke="#222" stroke-width="0.12">Fgf23</text>
<text transform="translate(218.74,609.3) scale(0.92,1)" font-size="9.2" font-style="italic" fill="#222" stroke="#222" stroke-width="0.12">Tmprss6</text>
<text transform="translate(29.4,571.41) rotate(-90) scale(0.72,1)" font-size="10.2" fill="#222" stroke="#222" stroke-width="0.35">Heart non-heme iron</text>
<text transform="translate(42.3,572.31) rotate(-90) scale(0.79,1)" font-size="10.2" fill="#222" stroke="#222" stroke-width="0.35">(μg/g tissue wet wt)</text>
<text transform="translate(268.91,491) scale(0.94,1)" font-size="12.51" font-weight="bold" fill="#222" stroke="#222" stroke-width="0.8">H</text>
<line x1="341.6" y1="497.5" x2="442.3" y2="497.5" stroke="#484848" stroke-width="1.3"/>
<circle cx="386.85" cy="494.4" r="1.15" fill="#222"/>
<circle cx="390.25" cy="494.4" r="1.15" fill="#222"/>
<circle cx="393.65" cy="494.4" r="1.15" fill="#222"/>
<circle cx="397.05" cy="494.4" r="1.15" fill="#222"/>
<line x1="360.4" y1="503.5" x2="461.2" y2="503.5" stroke="#484848" stroke-width="1.3"/>
<circle cx="405.7" cy="500.4" r="1.15" fill="#222"/>
<circle cx="409.1" cy="500.4" r="1.15" fill="#222"/>
<circle cx="412.5" cy="500.4" r="1.15" fill="#222"/>
<circle cx="415.9" cy="500.4" r="1.15" fill="#222"/>
<line x1="392.2" y1="510.5" x2="442.2" y2="510.5" stroke="#484848" stroke-width="1.3"/>
<circle cx="412.1" cy="507.4" r="1.15" fill="#222"/>
<circle cx="415.5" cy="507.4" r="1.15" fill="#222"/>
<circle cx="418.9" cy="507.4" r="1.15" fill="#222"/>
<circle cx="422.3" cy="507.4" r="1.15" fill="#222"/>
<line x1="411.8" y1="517.5" x2="461.2" y2="517.5" stroke="#484848" stroke-width="1.3"/>
<circle cx="431.4" cy="514.4" r="1.15" fill="#222"/>
<circle cx="434.8" cy="514.4" r="1.15" fill="#222"/>
<circle cx="438.2" cy="514.4" r="1.15" fill="#222"/>
<circle cx="441.6" cy="514.4" r="1.15" fill="#222"/>
<rect x="334.1" y="531.5" width="14.5" height="46.9" fill="#30abe4"/>
<rect x="355" y="532.7" width="14.5" height="45.7" fill="#37a935"/>
<rect x="384.1" y="531.5" width="14.5" height="46.9" fill="#30abe4"/>
<rect x="404.5" y="534.2" width="14.5" height="44.2" fill="#37a935"/>
<rect x="433.6" y="549.9" width="14.5" height="28.5" fill="#30abe4"/>
<rect x="453.95" y="548.8" width="14.5" height="29.6" fill="#37a935"/>
<path d="M341.5,528V535M337.6,528H345.4M337.6,535H345.4" stroke="#1e1e1e" stroke-width="1.1" fill="none"/>
<path d="M362.5,530V535.4M358.6,530H366.4M358.6,535.4H366.4" stroke="#1e1e1e" stroke-width="1.1" fill="none"/>
<path d="M391.5,529V534M387.6,529H395.4M387.6,534H395.4" stroke="#1e1e1e" stroke-width="1.1" fill="none"/>
<path d="M411.5,528.4V540M407.6,528.4H415.4M407.6,540H415.4" stroke="#1e1e1e" stroke-width="1.1" fill="none"/>
<path d="M440.5,548.5V551.3M436.6,548.5H444.4M436.6,551.3H444.4" stroke="#1e1e1e" stroke-width="1.1" fill="none"/>
<path d="M461.5,546.5V551.1M457.6,546.5H465.4M457.6,551.1H465.4" stroke="#1e1e1e" stroke-width="1.1" fill="none"/>
<circle cx="341.5" cy="525" r="1.5" fill="#bde3f2" stroke="#0f3040" stroke-width="1.1"/>
<circle cx="339" cy="528.5" r="1.5" fill="#bde3f2" stroke="#0f3040" stroke-width="1.1"/>
<circle cx="344" cy="528.5" r="1.5" fill="#bde3f2" stroke="#0f3040" stroke-width="1.1"/>
<circle cx="335.5" cy="532" r="1.5" fill="#bde3f2" stroke="#0f3040" stroke-width="1.1"/>
<circle cx="338.5" cy="532" r="1.5" fill="#bde3f2" stroke="#0f3040" stroke-width="1.1"/>
<circle cx="342" cy="533" r="1.5" fill="#bde3f2" stroke="#0f3040" stroke-width="1.1"/>
<circle cx="346.8" cy="536.5" r="1.5" fill="#bde3f2" stroke="#0f3040" stroke-width="1.1"/>
<circle cx="363" cy="526.5" r="1.5" fill="#b8e2b6" stroke="#0f2e10" stroke-width="1.1"/>
<circle cx="361" cy="529.5" r="1.5" fill="#b8e2b6" stroke="#0f2e10" stroke-width="1.1"/>
<circle cx="356" cy="532" r="1.5" fill="#b8e2b6" stroke="#0f2e10" stroke-width="1.1"/>
<circle cx="359" cy="533.5" r="1.5" fill="#b8e2b6" stroke="#0f2e10" stroke-width="1.1"/>
<circle cx="363.5" cy="535" r="1.5" fill="#b8e2b6" stroke="#0f2e10" stroke-width="1.1"/>
<circle cx="367.2" cy="536.5" r="1.5" fill="#b8e2b6" stroke="#0f2e10" stroke-width="1.1"/>
<circle cx="396.5" cy="526.5" r="1.5" fill="#bde3f2" stroke="#0f3040" stroke-width="1.1"/>
<circle cx="385" cy="530.5" r="1.5" fill="#bde3f2" stroke="#0f3040" stroke-width="1.1"/>
<circle cx="389" cy="530" r="1.5" fill="#bde3f2" stroke="#0f3040" stroke-width="1.1"/>
<circle cx="393" cy="530.5" r="1.5" fill="#bde3f2" stroke="#0f3040" stroke-width="1.1"/>
<circle cx="387" cy="533.5" r="1.5" fill="#bde3f2" stroke="#0f3040" stroke-width="1.1"/>
<circle cx="392" cy="534.5" r="1.5" fill="#bde3f2" stroke="#0f3040" stroke-width="1.1"/>
<circle cx="395" cy="537" r="1.5" fill="#bde3f2" stroke="#0f3040" stroke-width="1.1"/>
<circle cx="411.5" cy="524.7" r="1.5" fill="#b8e2b6" stroke="#0f2e10" stroke-width="1.1"/>
<circle cx="409.5" cy="530.4" r="1.5" fill="#b8e2b6" stroke="#0f2e10" stroke-width="1.1"/>
<circle cx="413.5" cy="529.5" r="1.5" fill="#b8e2b6" stroke="#0f2e10" stroke-width="1.1"/>
<circle cx="406.5" cy="535.8" r="1.5" fill="#b8e2b6" stroke="#0f2e10" stroke-width="1.1"/>
<circle cx="410" cy="537.5" r="1.5" fill="#b8e2b6" stroke="#0f2e10" stroke-width="1.1"/>
<circle cx="413.5" cy="537.5" r="1.5" fill="#b8e2b6" stroke="#0f2e10" stroke-width="1.1"/>
<circle cx="416.8" cy="538.8" r="1.5" fill="#b8e2b6" stroke="#0f2e10" stroke-width="1.1"/>
<circle cx="435.5" cy="549.5" r="1.5" fill="#bde3f2" stroke="#0f3040" stroke-width="1.1"/>
<circle cx="438.5" cy="550" r="1.5" fill="#bde3f2" stroke="#0f3040" stroke-width="1.1"/>
<circle cx="441.5" cy="549.5" r="1.5" fill="#bde3f2" stroke="#0f3040" stroke-width="1.1"/>
<circle cx="444.5" cy="548.8" r="1.5" fill="#bde3f2" stroke="#0f3040" stroke-width="1.1"/>
<circle cx="446.5" cy="551.5" r="1.5" fill="#bde3f2" stroke="#0f3040" stroke-width="1.1"/>
<circle cx="441" cy="551.5" r="1.5" fill="#bde3f2" stroke="#0f3040" stroke-width="1.1"/>
<circle cx="456.5" cy="548.1" r="1.5" fill="#b8e2b6" stroke="#0f2e10" stroke-width="1.1"/>
<circle cx="461" cy="546.5" r="1.5" fill="#b8e2b6" stroke="#0f2e10" stroke-width="1.1"/>
<circle cx="465.7" cy="551.9" r="1.5" fill="#b8e2b6" stroke="#0f2e10" stroke-width="1.1"/>
<circle cx="459" cy="549.5" r="1.5" fill="#b8e2b6" stroke="#0f2e10" stroke-width="1.1"/>
<circle cx="462.5" cy="550" r="1.5" fill="#b8e2b6" stroke="#0f2e10" stroke-width="1.1"/>
<path d="M326.6,497.2V578.4H476" stroke="#2b2b2b" stroke-width="1.4" fill="none"/>
<line x1="323.4" y1="578.4" x2="326.6" y2="578.4" stroke="#2b2b2b" stroke-width="1.1"/>
<text transform="translate(315.28,581.38) scale(1.04,1)" font-size="8.8" fill="#222" stroke="#222" stroke-width="0.2">0</text>
<line x1="323.4" y1="558.8" x2="326.6" y2="558.8" stroke="#2b2b2b" stroke-width="1.1"/>
<text transform="translate(310.22,561.78) scale(1.04,1)" font-size="8.8" fill="#222" stroke="#222" stroke-width="0.2">20</text>
<line x1="323.4" y1="539.2" x2="326.6" y2="539.2" stroke="#2b2b2b" stroke-width="1.1"/>
<text transform="translate(310.22,542.18) scale(1.04,1)" font-size="8.8" fill="#222" stroke="#222" stroke-width="0.2">40</text>
<line x1="323.4" y1="519.6" x2="326.6" y2="519.6" stroke="#2b2b2b" stroke-width="1.1"/>
<text transform="translate(310.22,522.58) scale(1.04,1)" font-size="8.8" fill="#222" stroke="#222" stroke-width="0.2">60</text>
<line x1="323.4" y1="500" x2="326.6" y2="500" stroke="#2b2b2b" stroke-width="1.1"/>
<text transform="translate(310.22,502.98) scale(1.04,1)" font-size="8.8" fill="#222" stroke="#222" stroke-width="0.2">80</text>
<line x1="341.5" y1="578.4" x2="341.5" y2="581.4" stroke="#2b2b2b" stroke-width="1"/>
<line x1="362.5" y1="578.4" x2="362.5" y2="581.4" stroke="#2b2b2b" stroke-width="1"/>
<line x1="391.5" y1="578.4" x2="391.5" y2="581.4" stroke="#2b2b2b" stroke-width="1"/>
<line x1="411.5" y1="578.4" x2="411.5" y2="581.4" stroke="#2b2b2b" stroke-width="1"/>
<line x1="440.5" y1="578.4" x2="440.5" y2="581.4" stroke="#2b2b2b" stroke-width="1"/>
<line x1="461.5" y1="578.4" x2="461.5" y2="581.4" stroke="#2b2b2b" stroke-width="1"/>
<text transform="translate(333.83,593.2) scale(1.17,1)" font-size="8.9" fill="#222" stroke="#222" stroke-width="0.2">+/+</text>
<text transform="translate(353.48,593.2) scale(1.18,1)" font-size="8.9" fill="#222" stroke="#222" stroke-width="0.2">+/G</text>
<text transform="translate(383.83,593.2) scale(1.17,1)" font-size="8.9" fill="#222" stroke="#222" stroke-width="0.2">+/+</text>
<text transform="translate(402.98,593.2) scale(1.18,1)" font-size="8.9" fill="#222" stroke="#222" stroke-width="0.2">+/G</text>
<text transform="translate(433.33,593.2) scale(1.17,1)" font-size="8.9" fill="#222" stroke="#222" stroke-width="0.2">+/+</text>
<text transform="translate(452.43,593.2) scale(1.18,1)" font-size="8.9" fill="#222" stroke="#222" stroke-width="0.2">+/G</text>
<line x1="333.05" y1="598.5" x2="369.85" y2="598.5" stroke="#333" stroke-width="1.2"/>
<text transform="translate(343.41,609.9) scale(1.21,1)" font-size="8.9" fill="#222" stroke="#222" stroke-width="0.2">+/+</text>
<line x1="383.05" y1="598.5" x2="419.35" y2="598.5" stroke="#333" stroke-width="1.2"/>
<text transform="translate(393.43,609.9) scale(1.17,1)" font-size="8.9" fill="#222" stroke="#222" stroke-width="0.2">+/−</text>
<line x1="432.55" y1="598.5" x2="468.8" y2="598.5" stroke="#333" stroke-width="1.2"/>
<text transform="translate(443.01,609.9) scale(1.15,1)" font-size="8.9" fill="#222" stroke="#222" stroke-width="0.2">−/−</text>
<text transform="translate(480.03,592.8) scale(1.02,1)" font-size="8.7" font-style="italic" fill="#222" stroke="#222" stroke-width="0.12">Fgf23</text>
<text transform="translate(479.74,609.3) scale(0.92,1)" font-size="9.2" font-style="italic" fill="#222" stroke="#222" stroke-width="0.12">Tmprss6</text>
<text transform="translate(290.55,573.31) rotate(-90) scale(0.72,1)" font-size="10.2" fill="#222" stroke="#222" stroke-width="0.35">Kidney non-heme iron</text>
<text transform="translate(303,572) rotate(-90) scale(0.78,1)" font-size="10.2" fill="#222" stroke="#222" stroke-width="0.35">(μg/g tissue wet wt)</text>
<text transform="translate(10.84,639.7) scale(0.88,1)" font-size="12.8" font-weight="bold" fill="#222" stroke="#222" stroke-width="0.8">I</text>
<line x1="80.6" y1="649.5" x2="181.3" y2="649.5" stroke="#484848" stroke-width="1.3"/>
<circle cx="129.25" cy="646.4" r="1.15" fill="#222"/>
<circle cx="132.65" cy="646.4" r="1.15" fill="#222"/>
<line x1="98.7" y1="655.5" x2="200.2" y2="655.5" stroke="#484848" stroke-width="1.3"/>
<circle cx="144.35" cy="652.4" r="1.15" fill="#222"/>
<circle cx="147.75" cy="652.4" r="1.15" fill="#222"/>
<circle cx="151.15" cy="652.4" r="1.15" fill="#222"/>
<circle cx="154.55" cy="652.4" r="1.15" fill="#222"/>
<line x1="131.2" y1="661.5" x2="181.2" y2="661.5" stroke="#484848" stroke-width="1.3"/>
<circle cx="154.5" cy="658.4" r="1.15" fill="#222"/>
<circle cx="157.9" cy="658.4" r="1.15" fill="#222"/>
<line x1="150.8" y1="669.5" x2="200.2" y2="669.5" stroke="#484848" stroke-width="1.3"/>
<circle cx="172.1" cy="666.4" r="1.15" fill="#222"/>
<circle cx="175.5" cy="666.4" r="1.15" fill="#222"/>
<circle cx="178.9" cy="666.4" r="1.15" fill="#222"/>
<rect x="73.1" y="698.8" width="14.5" height="29.6" fill="#30abe4"/>
<rect x="94" y="700.8" width="14.5" height="27.6" fill="#37a935"/>
<rect x="123.1" y="699.3" width="14.5" height="29.1" fill="#30abe4"/>
<rect x="143.5" y="698.4" width="14.5" height="30" fill="#37a935"/>
<rect x="172.6" y="688.5" width="14.5" height="39.9" fill="#30abe4"/>
<rect x="192.95" y="688" width="14.5" height="40.4" fill="#37a935"/>
<path d="M80.5,695.3V702.3M76.6,695.3H84.4M76.6,702.3H84.4" stroke="#1e1e1e" stroke-width="1.1" fill="none"/>
<path d="M101.5,696.8V704.8M97.6,696.8H105.4M97.6,704.8H105.4" stroke="#1e1e1e" stroke-width="1.1" fill="none"/>
<path d="M130.5,693.2V705.4M126.6,693.2H134.4M126.6,705.4H134.4" stroke="#1e1e1e" stroke-width="1.1" fill="none"/>
<path d="M150.5,692.7V704.1M146.6,692.7H154.4M146.6,704.1H154.4" stroke="#1e1e1e" stroke-width="1.1" fill="none"/>
<path d="M179.5,683V695.8M175.6,683H183.4M175.6,695.8H183.4" stroke="#1e1e1e" stroke-width="1.1" fill="none"/>
<path d="M200.5,685V692.7M196.6,685H204.4M196.6,692.7H204.4" stroke="#1e1e1e" stroke-width="1.1" fill="none"/>
<circle cx="81.8" cy="693.5" r="1.5" fill="#bde3f2" stroke="#0f3040" stroke-width="1.1"/>
<circle cx="78.5" cy="695" r="1.5" fill="#bde3f2" stroke="#0f3040" stroke-width="1.1"/>
<circle cx="74.9" cy="697.3" r="1.5" fill="#bde3f2" stroke="#0f3040" stroke-width="1.1"/>
<circle cx="78" cy="700" r="1.5" fill="#bde3f2" stroke="#0f3040" stroke-width="1.1"/>
<circle cx="82.6" cy="700.8" r="1.5" fill="#bde3f2" stroke="#0f3040" stroke-width="1.1"/>
<circle cx="86.2" cy="701.5" r="1.5" fill="#bde3f2" stroke="#0f3040" stroke-width="1.1"/>
<circle cx="100.6" cy="693.2" r="1.5" fill="#b8e2b6" stroke="#0f2e10" stroke-width="1.1"/>
<circle cx="96" cy="700.4" r="1.5" fill="#b8e2b6" stroke="#0f2e10" stroke-width="1.1"/>
<circle cx="99.5" cy="701" r="1.5" fill="#b8e2b6" stroke="#0f2e10" stroke-width="1.1"/>
<circle cx="103.7" cy="700.8" r="1.5" fill="#b8e2b6" stroke="#0f2e10" stroke-width="1.1"/>
<circle cx="106.2" cy="703" r="1.5" fill="#b8e2b6" stroke="#0f2e10" stroke-width="1.1"/>
<circle cx="129.8" cy="688.1" r="1.5" fill="#bde3f2" stroke="#0f3040" stroke-width="1.1"/>
<circle cx="131.8" cy="695.3" r="1.5" fill="#bde3f2" stroke="#0f3040" stroke-width="1.1"/>
<circle cx="124.9" cy="699.6" r="1.5" fill="#bde3f2" stroke="#0f3040" stroke-width="1.1"/>
<circle cx="128.8" cy="698" r="1.5" fill="#bde3f2" stroke="#0f3040" stroke-width="1.1"/>
<circle cx="131.8" cy="703" r="1.5" fill="#bde3f2" stroke="#0f3040" stroke-width="1.1"/>
<circle cx="135.4" cy="703.9" r="1.5" fill="#bde3f2" stroke="#0f3040" stroke-width="1.1"/>
<circle cx="150.3" cy="687.6" r="1.5" fill="#b8e2b6" stroke="#0f2e10" stroke-width="1.1"/>
<circle cx="151.8" cy="696.2" r="1.5" fill="#b8e2b6" stroke="#0f2e10" stroke-width="1.1"/>
<circle cx="144.9" cy="698.4" r="1.5" fill="#b8e2b6" stroke="#0f2e10" stroke-width="1.1"/>
<circle cx="148.8" cy="700.4" r="1.5" fill="#b8e2b6" stroke="#0f2e10" stroke-width="1.1"/>
<circle cx="152.6" cy="700.8" r="1.5" fill="#b8e2b6" stroke="#0f2e10" stroke-width="1.1"/>
<circle cx="156.2" cy="702.7" r="1.5" fill="#b8e2b6" stroke="#0f2e10" stroke-width="1.1"/>
<circle cx="179.5" cy="679.9" r="1.5" fill="#bde3f2" stroke="#0f3040" stroke-width="1.1"/>
<circle cx="174.9" cy="686.5" r="1.5" fill="#bde3f2" stroke="#0f3040" stroke-width="1.1"/>
<circle cx="178.3" cy="687.6" r="1.5" fill="#bde3f2" stroke="#0f3040" stroke-width="1.1"/>
<circle cx="184.9" cy="685" r="1.5" fill="#bde3f2" stroke="#0f3040" stroke-width="1.1"/>
<circle cx="181.8" cy="689.2" r="1.5" fill="#bde3f2" stroke="#0f3040" stroke-width="1.1"/>
<circle cx="177.7" cy="695.3" r="1.5" fill="#bde3f2" stroke="#0f3040" stroke-width="1.1"/>
<circle cx="181.8" cy="696.2" r="1.5" fill="#bde3f2" stroke="#0f3040" stroke-width="1.1"/>
<circle cx="194.9" cy="683.5" r="1.5" fill="#b8e2b6" stroke="#0f2e10" stroke-width="1.1"/>
<circle cx="198.8" cy="683.5" r="1.5" fill="#b8e2b6" stroke="#0f2e10" stroke-width="1.1"/>
<circle cx="202.6" cy="683.5" r="1.5" fill="#b8e2b6" stroke="#0f2e10" stroke-width="1.1"/>
<circle cx="205.7" cy="683.5" r="1.5" fill="#b8e2b6" stroke="#0f2e10" stroke-width="1.1"/>
<circle cx="200.3" cy="686.5" r="1.5" fill="#b8e2b6" stroke="#0f2e10" stroke-width="1.1"/>
<circle cx="199.5" cy="696.2" r="1.5" fill="#b8e2b6" stroke="#0f2e10" stroke-width="1.1"/>
<path d="M65.9,646.7V728.4H215" stroke="#2b2b2b" stroke-width="1.4" fill="none"/>
<line x1="62.7" y1="728.4" x2="65.9" y2="728.4" stroke="#2b2b2b" stroke-width="1.1"/>
<text transform="translate(46.67,731.38) scale(1.04,1)" font-size="8.8" fill="#222" stroke="#222" stroke-width="0.2">0.0</text>
<line x1="62.7" y1="708.67" x2="65.9" y2="708.67" stroke="#2b2b2b" stroke-width="1.1"/>
<text transform="translate(46.78,711.65) scale(1.04,1)" font-size="8.8" fill="#222" stroke="#222" stroke-width="0.2">0.2</text>
<line x1="62.7" y1="688.95" x2="65.9" y2="688.95" stroke="#2b2b2b" stroke-width="1.1"/>
<text transform="translate(46.58,691.93) scale(1.04,1)" font-size="8.8" fill="#222" stroke="#222" stroke-width="0.2">0.4</text>
<line x1="62.7" y1="669.23" x2="65.9" y2="669.23" stroke="#2b2b2b" stroke-width="1.1"/>
<text transform="translate(46.72,672.21) scale(1.04,1)" font-size="8.8" fill="#222" stroke="#222" stroke-width="0.2">0.6</text>
<line x1="62.7" y1="649.5" x2="65.9" y2="649.5" stroke="#2b2b2b" stroke-width="1.1"/>
<text transform="translate(46.72,652.48) scale(1.04,1)" font-size="8.8" fill="#222" stroke="#222" stroke-width="0.2">0.8</text>
<line x1="80.5" y1="728.4" x2="80.5" y2="731.4" stroke="#2b2b2b" stroke-width="1"/>
<line x1="101.5" y1="728.4" x2="101.5" y2="731.4" stroke="#2b2b2b" stroke-width="1"/>
<line x1="130.5" y1="728.4" x2="130.5" y2="731.4" stroke="#2b2b2b" stroke-width="1"/>
<line x1="150.5" y1="728.4" x2="150.5" y2="731.4" stroke="#2b2b2b" stroke-width="1"/>
<line x1="179.5" y1="728.4" x2="179.5" y2="731.4" stroke="#2b2b2b" stroke-width="1"/>
<line x1="200.5" y1="728.4" x2="200.5" y2="731.4" stroke="#2b2b2b" stroke-width="1"/>
<text transform="translate(72.83,743.2) scale(1.17,1)" font-size="8.9" fill="#222" stroke="#222" stroke-width="0.2">+/+</text>
<text transform="translate(92.48,743.2) scale(1.18,1)" font-size="8.9" fill="#222" stroke="#222" stroke-width="0.2">+/G</text>
<text transform="translate(122.83,743.2) scale(1.17,1)" font-size="8.9" fill="#222" stroke="#222" stroke-width="0.2">+/+</text>
<text transform="translate(141.98,743.2) scale(1.18,1)" font-size="8.9" fill="#222" stroke="#222" stroke-width="0.2">+/G</text>
<text transform="translate(172.33,743.2) scale(1.17,1)" font-size="8.9" fill="#222" stroke="#222" stroke-width="0.2">+/+</text>
<text transform="translate(191.43,743.2) scale(1.18,1)" font-size="8.9" fill="#222" stroke="#222" stroke-width="0.2">+/G</text>
<line x1="72.05" y1="748.5" x2="108.85" y2="748.5" stroke="#333" stroke-width="1.2"/>
<text transform="translate(82.41,759.9) scale(1.21,1)" font-size="8.9" fill="#222" stroke="#222" stroke-width="0.2">+/+</text>
<line x1="122.05" y1="748.5" x2="158.35" y2="748.5" stroke="#333" stroke-width="1.2"/>
<text transform="translate(132.43,759.9) scale(1.17,1)" font-size="8.9" fill="#222" stroke="#222" stroke-width="0.2">+/−</text>
<line x1="171.55" y1="748.5" x2="207.8" y2="748.5" stroke="#333" stroke-width="1.2"/>
<text transform="translate(182.01,759.9) scale(1.15,1)" font-size="8.9" fill="#222" stroke="#222" stroke-width="0.2">−/−</text>
<text transform="translate(218.74,742.8) scale(1.01,1)" font-size="8.7" font-style="italic" fill="#222" stroke="#222" stroke-width="0.12">Fgf23</text>
<text transform="translate(218.74,759.3) scale(0.92,1)" font-size="9.2" font-style="italic" fill="#222" stroke="#222" stroke-width="0.12">Tmprss6</text>
<text transform="translate(40.5,735.14) rotate(-90) scale(0.73,1)" font-size="10.2" fill="#222" stroke="#222" stroke-width="0.35">Spleen:body weight ratio (%)</text>
<text transform="translate(270.67,639.4) scale(0.74,1)" font-size="12.07" font-weight="bold" fill="#222" stroke="#222" stroke-width="0.8">J</text>
<line x1="341.6" y1="649.5" x2="442.3" y2="649.5" stroke="#484848" stroke-width="1.3"/>
<circle cx="386.85" cy="646.4" r="1.15" fill="#222"/>
<circle cx="390.25" cy="646.4" r="1.15" fill="#222"/>
<circle cx="393.65" cy="646.4" r="1.15" fill="#222"/>
<circle cx="397.05" cy="646.4" r="1.15" fill="#222"/>
<line x1="360.4" y1="656.5" x2="461.2" y2="656.5" stroke="#484848" stroke-width="1.3"/>
<circle cx="410.8" cy="653.4" r="1.15" fill="#222"/>
<line x1="392.2" y1="663.5" x2="442.2" y2="663.5" stroke="#484848" stroke-width="1.3"/>
<circle cx="412.1" cy="660.4" r="1.15" fill="#222"/>
<circle cx="415.5" cy="660.4" r="1.15" fill="#222"/>
<circle cx="418.9" cy="660.4" r="1.15" fill="#222"/>
<circle cx="422.3" cy="660.4" r="1.15" fill="#222"/>
<rect x="334.1" y="705" width="14.5" height="23.4" fill="#30abe4"/>
<rect x="355" y="704.2" width="14.5" height="24.2" fill="#37a935"/>
<rect x="384.1" y="703.5" width="14.5" height="24.9" fill="#30abe4"/>
<rect x="404.5" y="704.2" width="14.5" height="24.2" fill="#37a935"/>
<rect x="433.6" y="685.8" width="14.5" height="42.6" fill="#30abe4"/>
<rect x="453.95" y="694.2" width="14.5" height="34.2" fill="#37a935"/>
<path d="M341.5,699.3V710.7M337.6,699.3H345.4M337.6,710.7H345.4" stroke="#1e1e1e" stroke-width="1.1" fill="none"/>
<path d="M362.5,698.8V710.4M358.6,698.8H366.4M358.6,710.4H366.4" stroke="#1e1e1e" stroke-width="1.1" fill="none"/>
<path d="M391.5,695.3V708.8M387.6,695.3H395.4M387.6,708.8H395.4" stroke="#1e1e1e" stroke-width="1.1" fill="none"/>
<path d="M411.5,696.8V710.1M407.6,696.8H415.4M407.6,710.1H415.4" stroke="#1e1e1e" stroke-width="1.1" fill="none"/>
<path d="M440.5,677.3V692.7M436.6,677.3H444.4M436.6,692.7H444.4" stroke="#1e1e1e" stroke-width="1.1" fill="none"/>
<path d="M461.5,684.2V701.9M457.6,684.2H465.4M457.6,701.9H465.4" stroke="#1e1e1e" stroke-width="1.1" fill="none"/>
<circle cx="339.5" cy="696.8" r="1.5" fill="#bde3f2" stroke="#0f3040" stroke-width="1.1"/>
<circle cx="343.4" cy="696.8" r="1.5" fill="#bde3f2" stroke="#0f3040" stroke-width="1.1"/>
<circle cx="336" cy="706.5" r="1.5" fill="#bde3f2" stroke="#0f3040" stroke-width="1.1"/>
<circle cx="340.3" cy="708" r="1.5" fill="#bde3f2" stroke="#0f3040" stroke-width="1.1"/>
<circle cx="343.4" cy="708" r="1.5" fill="#bde3f2" stroke="#0f3040" stroke-width="1.1"/>
<circle cx="346.8" cy="709.6" r="1.5" fill="#bde3f2" stroke="#0f3040" stroke-width="1.1"/>
<circle cx="357.2" cy="701.5" r="1.5" fill="#b8e2b6" stroke="#0f2e10" stroke-width="1.1"/>
<circle cx="360.6" cy="699.3" r="1.5" fill="#b8e2b6" stroke="#0f2e10" stroke-width="1.1"/>
<circle cx="364.6" cy="696.5" r="1.5" fill="#b8e2b6" stroke="#0f2e10" stroke-width="1.1"/>
<circle cx="362.2" cy="702.7" r="1.5" fill="#b8e2b6" stroke="#0f2e10" stroke-width="1.1"/>
<circle cx="366.5" cy="704.5" r="1.5" fill="#b8e2b6" stroke="#0f2e10" stroke-width="1.1"/>
<circle cx="359.5" cy="711.2" r="1.5" fill="#b8e2b6" stroke="#0f2e10" stroke-width="1.1"/>
<circle cx="364.2" cy="711.2" r="1.5" fill="#b8e2b6" stroke="#0f2e10" stroke-width="1.1"/>
<circle cx="389.2" cy="693.2" r="1.5" fill="#bde3f2" stroke="#0f3040" stroke-width="1.1"/>
<circle cx="393.4" cy="693.2" r="1.5" fill="#bde3f2" stroke="#0f3040" stroke-width="1.1"/>
<circle cx="389.2" cy="700.4" r="1.5" fill="#bde3f2" stroke="#0f3040" stroke-width="1.1"/>
<circle cx="393.4" cy="702.7" r="1.5" fill="#bde3f2" stroke="#0f3040" stroke-width="1.1"/>
<circle cx="386.2" cy="708.8" r="1.5" fill="#bde3f2" stroke="#0f3040" stroke-width="1.1"/>
<circle cx="390.3" cy="709.6" r="1.5" fill="#bde3f2" stroke="#0f3040" stroke-width="1.1"/>
<circle cx="396.5" cy="709.6" r="1.5" fill="#bde3f2" stroke="#0f3040" stroke-width="1.1"/>
<circle cx="411.5" cy="690.4" r="1.5" fill="#b8e2b6" stroke="#0f2e10" stroke-width="1.1"/>
<circle cx="409.5" cy="701.2" r="1.5" fill="#b8e2b6" stroke="#0f2e10" stroke-width="1.1"/>
<circle cx="413.4" cy="701.2" r="1.5" fill="#b8e2b6" stroke="#0f2e10" stroke-width="1.1"/>
<circle cx="406.5" cy="705.5" r="1.5" fill="#b8e2b6" stroke="#0f2e10" stroke-width="1.1"/>
<circle cx="410" cy="708.5" r="1.5" fill="#b8e2b6" stroke="#0f2e10" stroke-width="1.1"/>
<circle cx="413.4" cy="709.2" r="1.5" fill="#b8e2b6" stroke="#0f2e10" stroke-width="1.1"/>
<circle cx="416.8" cy="709.6" r="1.5" fill="#b8e2b6" stroke="#0f2e10" stroke-width="1.1"/>
<circle cx="440.8" cy="673.2" r="1.5" fill="#bde3f2" stroke="#0f3040" stroke-width="1.1"/>
<circle cx="442.9" cy="679.9" r="1.5" fill="#bde3f2" stroke="#0f3040" stroke-width="1.1"/>
<circle cx="435.7" cy="685" r="1.5" fill="#bde3f2" stroke="#0f3040" stroke-width="1.1"/>
<circle cx="438.8" cy="683.5" r="1.5" fill="#bde3f2" stroke="#0f3040" stroke-width="1.1"/>
<circle cx="445.7" cy="689.6" r="1.5" fill="#bde3f2" stroke="#0f3040" stroke-width="1.1"/>
<circle cx="440.8" cy="698.8" r="1.5" fill="#bde3f2" stroke="#0f3040" stroke-width="1.1"/>
<circle cx="461" cy="680" r="1.5" fill="#b8e2b6" stroke="#0f2e10" stroke-width="1.1"/>
<circle cx="456.2" cy="695.3" r="1.5" fill="#b8e2b6" stroke="#0f2e10" stroke-width="1.1"/>
<circle cx="461" cy="698" r="1.5" fill="#b8e2b6" stroke="#0f2e10" stroke-width="1.1"/>
<circle cx="465.7" cy="698.8" r="1.5" fill="#b8e2b6" stroke="#0f2e10" stroke-width="1.1"/>
<circle cx="461" cy="701" r="1.5" fill="#b8e2b6" stroke="#0f2e10" stroke-width="1.1"/>
<path d="M326.6,646.7V728.4H476" stroke="#2b2b2b" stroke-width="1.4" fill="none"/>
<line x1="323.4" y1="728.4" x2="326.6" y2="728.4" stroke="#2b2b2b" stroke-width="1.1"/>
<text transform="translate(315.28,731.38) scale(1.04,1)" font-size="8.8" fill="#222" stroke="#222" stroke-width="0.2">0</text>
<line x1="323.4" y1="708.67" x2="326.6" y2="708.67" stroke="#2b2b2b" stroke-width="1.1"/>
<text transform="translate(310.22,711.65) scale(1.04,1)" font-size="8.8" fill="#222" stroke="#222" stroke-width="0.2">10</text>
<line x1="323.4" y1="688.95" x2="326.6" y2="688.95" stroke="#2b2b2b" stroke-width="1.1"/>
<text transform="translate(310.22,691.93) scale(1.04,1)" font-size="8.8" fill="#222" stroke="#222" stroke-width="0.2">20</text>
<line x1="323.4" y1="669.23" x2="326.6" y2="669.23" stroke="#2b2b2b" stroke-width="1.1"/>
<text transform="translate(310.22,672.21) scale(1.04,1)" font-size="8.8" fill="#222" stroke="#222" stroke-width="0.2">30</text>
<line x1="323.4" y1="649.5" x2="326.6" y2="649.5" stroke="#2b2b2b" stroke-width="1.1"/>
<text transform="translate(310.22,652.48) scale(1.04,1)" font-size="8.8" fill="#222" stroke="#222" stroke-width="0.2">40</text>
<line x1="341.5" y1="728.4" x2="341.5" y2="731.4" stroke="#2b2b2b" stroke-width="1"/>
<line x1="362.5" y1="728.4" x2="362.5" y2="731.4" stroke="#2b2b2b" stroke-width="1"/>
<line x1="391.5" y1="728.4" x2="391.5" y2="731.4" stroke="#2b2b2b" stroke-width="1"/>
<line x1="411.5" y1="728.4" x2="411.5" y2="731.4" stroke="#2b2b2b" stroke-width="1"/>
<line x1="440.5" y1="728.4" x2="440.5" y2="731.4" stroke="#2b2b2b" stroke-width="1"/>
<line x1="461.5" y1="728.4" x2="461.5" y2="731.4" stroke="#2b2b2b" stroke-width="1"/>
<text transform="translate(333.83,743.2) scale(1.17,1)" font-size="8.9" fill="#222" stroke="#222" stroke-width="0.2">+/+</text>
<text transform="translate(353.48,743.2) scale(1.18,1)" font-size="8.9" fill="#222" stroke="#222" stroke-width="0.2">+/G</text>
<text transform="translate(383.83,743.2) scale(1.17,1)" font-size="8.9" fill="#222" stroke="#222" stroke-width="0.2">+/+</text>
<text transform="translate(402.98,743.2) scale(1.18,1)" font-size="8.9" fill="#222" stroke="#222" stroke-width="0.2">+/G</text>
<text transform="translate(433.33,743.2) scale(1.17,1)" font-size="8.9" fill="#222" stroke="#222" stroke-width="0.2">+/+</text>
<text transform="translate(452.43,743.2) scale(1.18,1)" font-size="8.9" fill="#222" stroke="#222" stroke-width="0.2">+/G</text>
<line x1="333.05" y1="748.5" x2="369.85" y2="748.5" stroke="#333" stroke-width="1.2"/>
<text transform="translate(343.41,759.9) scale(1.21,1)" font-size="8.9" fill="#222" stroke="#222" stroke-width="0.2">+/+</text>
<line x1="383.05" y1="748.5" x2="419.35" y2="748.5" stroke="#333" stroke-width="1.2"/>
<text transform="translate(393.43,759.9) scale(1.17,1)" font-size="8.9" fill="#222" stroke="#222" stroke-width="0.2">+/−</text>
<line x1="432.55" y1="748.5" x2="468.8" y2="748.5" stroke="#333" stroke-width="1.2"/>
<text transform="translate(443.01,759.9) scale(1.15,1)" font-size="8.9" fill="#222" stroke="#222" stroke-width="0.2">−/−</text>
<text transform="translate(480.03,742.8) scale(1.02,1)" font-size="8.7" font-style="italic" fill="#222" stroke="#222" stroke-width="0.12">Fgf23</text>
<text transform="translate(479.74,759.3) scale(0.92,1)" font-size="9.2" font-style="italic" fill="#222" stroke="#222" stroke-width="0.12">Tmprss6</text>
<text transform="translate(303.6,723.57) rotate(-90) scale(0.75,1)" font-size="10.2" fill="#222" stroke="#222" stroke-width="0.35">Total spleen iron (μg)</text>
<rect x="0.5" y="0.5" width="519" height="768" fill="none" stroke="#646464" stroke-width="1"/>
</svg>
</body></html>
